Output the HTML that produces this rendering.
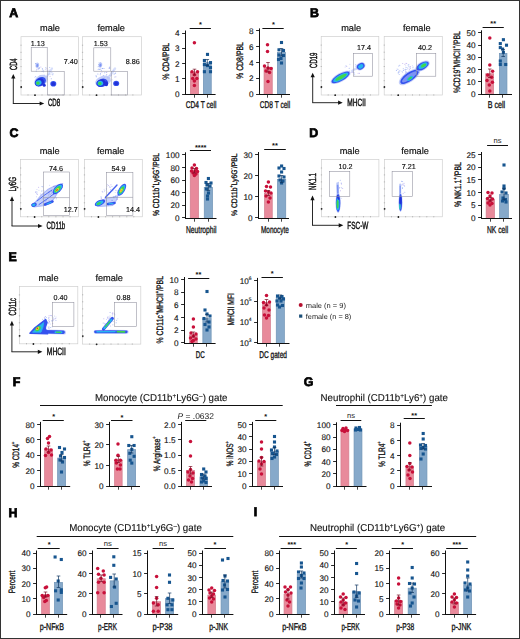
<!DOCTYPE html>
<html><head><meta charset="utf-8"><style>
html,body{margin:0;padding:0;background:#fff;}
svg{display:block;font-family:"Liberation Sans", sans-serif;text-rendering:geometricPrecision;}
</style></head><body>
<svg width="520" height="639" viewBox="0 0 520 639">
<defs><filter id="bl" x="-10%" y="-10%" width="120%" height="120%"><feGaussianBlur stdDeviation="0.4"/></filter></defs>
<rect x="0" y="0" width="520" height="639" fill="#fff"/>
<rect x="190.35" y="72.14999999999999" width="8.3" height="22.35" fill="#e88a9b" stroke="#d27b8c" stroke-width="0.7"/>
<rect x="203.35" y="62.75" width="7.899999999999994" height="31.75" fill="#86a9ca" stroke="#7093b6" stroke-width="0.7"/>
<circle cx="194.4" cy="42.7" r="1.75" fill="#c8103a"/>
<circle cx="192" cy="71.7" r="1.75" fill="#c8103a"/>
<circle cx="197.5" cy="71.7" r="1.75" fill="#c8103a"/>
<circle cx="194.4" cy="74.8" r="1.75" fill="#c8103a"/>
<circle cx="192.7" cy="78.6" r="1.75" fill="#c8103a"/>
<circle cx="196.8" cy="78.6" r="1.75" fill="#c8103a"/>
<circle cx="194.4" cy="80.9" r="1.75" fill="#c8103a"/>
<circle cx="194.4" cy="85.4" r="1.75" fill="#c8103a"/>
<rect x="205.95" y="52.85" width="3.1" height="3.1" fill="#17558f"/>
<rect x="202.85" y="58.95" width="3.1" height="3.1" fill="#17558f"/>
<rect x="208.95" y="61.050000000000004" width="3.1" height="3.1" fill="#17558f"/>
<rect x="202.85" y="63.05" width="3.1" height="3.1" fill="#17558f"/>
<rect x="205.95" y="64.05" width="3.1" height="3.1" fill="#17558f"/>
<rect x="208.95" y="66.05" width="3.1" height="3.1" fill="#17558f"/>
<rect x="202.85" y="70.15" width="3.1" height="3.1" fill="#17558f"/>
<rect x="208.95" y="70.15" width="3.1" height="3.1" fill="#17558f"/>
<line x1="194.5" y1="69.2" x2="194.5" y2="75" stroke="#7a0f25" stroke-width="0.7"/>
<line x1="192.7" y1="69.2" x2="196.3" y2="69.2" stroke="#7a0f25" stroke-width="0.7"/>
<line x1="192.7" y1="75" x2="196.3" y2="75" stroke="#7a0f25" stroke-width="0.7"/>
<line x1="207.3" y1="59.5" x2="207.3" y2="65.5" stroke="#0f3560" stroke-width="0.7"/>
<line x1="205.5" y1="59.5" x2="209.10000000000002" y2="59.5" stroke="#0f3560" stroke-width="0.7"/>
<line x1="205.5" y1="65.5" x2="209.10000000000002" y2="65.5" stroke="#0f3560" stroke-width="0.7"/>
<line x1="185.5" y1="30.500000000000004" x2="185.5" y2="95.0" stroke="#111" stroke-width="1.0"/>
<line x1="185.0" y1="94.5" x2="215.6" y2="94.5" stroke="#111" stroke-width="1.0"/>
<line x1="182.1" y1="94.5" x2="185.5" y2="94.5" stroke="#111" stroke-width="0.9"/>
<text x="179.5" y="97.2" font-size="8.2" text-anchor="end" fill="#111" stroke="#111" stroke-width="0.12">0</text>
<line x1="182.1" y1="78.5" x2="185.5" y2="78.5" stroke="#111" stroke-width="0.9"/>
<text x="179.5" y="81.92500000000001" font-size="8.2" text-anchor="end" fill="#111" stroke="#111" stroke-width="0.12">1</text>
<line x1="182.1" y1="63.5" x2="185.5" y2="63.5" stroke="#111" stroke-width="0.9"/>
<text x="179.5" y="66.65" font-size="8.2" text-anchor="end" fill="#111" stroke="#111" stroke-width="0.12">2</text>
<line x1="182.1" y1="48.5" x2="185.5" y2="48.5" stroke="#111" stroke-width="0.9"/>
<text x="179.5" y="51.375" font-size="8.2" text-anchor="end" fill="#111" stroke="#111" stroke-width="0.12">3</text>
<line x1="182.1" y1="33.5" x2="185.5" y2="33.5" stroke="#111" stroke-width="0.9"/>
<text x="179.5" y="36.1" font-size="8.2" text-anchor="end" fill="#111" stroke="#111" stroke-width="0.12">4</text>
<line x1="194.5" y1="94.5" x2="194.5" y2="97.7" stroke="#222" stroke-width="0.85"/>
<line x1="207.5" y1="94.5" x2="207.5" y2="97.7" stroke="#222" stroke-width="0.85"/>
<line x1="189.7" y1="28.5" x2="210.9" y2="28.5" stroke="#111" stroke-width="1.0"/>
<text x="200.5" y="27.3" font-size="7.4" font-weight="bold" text-anchor="middle" fill="#111">*</text>
<text x="185.8" y="107.6" font-size="9.8" fill="#111" stroke="#111" stroke-width="0.32" textLength="30.599999999999994" lengthAdjust="spacingAndGlyphs">CD4 T cell</text>
<text transform="translate(169.2,61.3) rotate(-90)" x="-18.35" y="0" font-size="9.3" fill="#111" stroke="#111" stroke-width="0.32" textLength="36.7" lengthAdjust="spacingAndGlyphs">% CD4/PBL</text>
<rect x="264.05" y="67.55" width="8.200000000000035" height="26.949999999999996" fill="#e88a9b" stroke="#d27b8c" stroke-width="0.7"/>
<rect x="277.35" y="52.35" width="8.199999999999978" height="42.15" fill="#86a9ca" stroke="#7093b6" stroke-width="0.7"/>
<circle cx="267.5" cy="44.7" r="1.75" fill="#c8103a"/>
<circle cx="267.5" cy="51.5" r="1.75" fill="#c8103a"/>
<circle cx="264.5" cy="66" r="1.75" fill="#c8103a"/>
<circle cx="268" cy="68" r="1.75" fill="#c8103a"/>
<circle cx="271" cy="68.5" r="1.75" fill="#c8103a"/>
<circle cx="266" cy="71" r="1.75" fill="#c8103a"/>
<circle cx="269.5" cy="72.5" r="1.75" fill="#c8103a"/>
<circle cx="268" cy="81.5" r="1.75" fill="#c8103a"/>
<rect x="279.95" y="40.95" width="3.1" height="3.1" fill="#17558f"/>
<rect x="277.45" y="48.25" width="3.1" height="3.1" fill="#17558f"/>
<rect x="281.95" y="48.95" width="3.1" height="3.1" fill="#17558f"/>
<rect x="277.45" y="53.45" width="3.1" height="3.1" fill="#17558f"/>
<rect x="281.95" y="53.95" width="3.1" height="3.1" fill="#17558f"/>
<rect x="279.45" y="56.95" width="3.1" height="3.1" fill="#17558f"/>
<rect x="276.95" y="57.95" width="3.1" height="3.1" fill="#17558f"/>
<rect x="279.95" y="61.45" width="3.1" height="3.1" fill="#17558f"/>
<line x1="268" y1="62.5" x2="268" y2="72" stroke="#7a0f25" stroke-width="0.7"/>
<line x1="266.2" y1="62.5" x2="269.8" y2="62.5" stroke="#7a0f25" stroke-width="0.7"/>
<line x1="266.2" y1="72" x2="269.8" y2="72" stroke="#7a0f25" stroke-width="0.7"/>
<line x1="281.5" y1="48.5" x2="281.5" y2="56" stroke="#0f3560" stroke-width="0.7"/>
<line x1="279.7" y1="48.5" x2="283.3" y2="48.5" stroke="#0f3560" stroke-width="0.7"/>
<line x1="279.7" y1="56" x2="283.3" y2="56" stroke="#0f3560" stroke-width="0.7"/>
<line x1="259.5" y1="28.400000000000002" x2="259.5" y2="95.0" stroke="#111" stroke-width="1.0"/>
<line x1="259.0" y1="94.5" x2="290" y2="94.5" stroke="#111" stroke-width="1.0"/>
<line x1="256.1" y1="94.5" x2="259.5" y2="94.5" stroke="#111" stroke-width="0.9"/>
<text x="253.5" y="97.2" font-size="8.2" text-anchor="end" fill="#111" stroke="#111" stroke-width="0.12">0</text>
<line x1="256.1" y1="78.5" x2="259.5" y2="78.5" stroke="#111" stroke-width="0.9"/>
<text x="253.5" y="81.4" font-size="8.2" text-anchor="end" fill="#111" stroke="#111" stroke-width="0.12">2</text>
<line x1="256.1" y1="62.5" x2="259.5" y2="62.5" stroke="#111" stroke-width="0.9"/>
<text x="253.5" y="65.60000000000001" font-size="8.2" text-anchor="end" fill="#111" stroke="#111" stroke-width="0.12">4</text>
<line x1="256.1" y1="46.5" x2="259.5" y2="46.5" stroke="#111" stroke-width="0.9"/>
<text x="253.5" y="49.8" font-size="8.2" text-anchor="end" fill="#111" stroke="#111" stroke-width="0.12">6</text>
<line x1="256.1" y1="30.5" x2="259.5" y2="30.5" stroke="#111" stroke-width="0.9"/>
<text x="253.5" y="34.0" font-size="8.2" text-anchor="end" fill="#111" stroke="#111" stroke-width="0.12">8</text>
<line x1="267.5" y1="94.5" x2="267.5" y2="97.7" stroke="#222" stroke-width="0.85"/>
<line x1="281.5" y1="94.5" x2="281.5" y2="97.7" stroke="#222" stroke-width="0.85"/>
<line x1="262.4" y1="28.5" x2="283.7" y2="28.5" stroke="#111" stroke-width="1.0"/>
<text x="273.5" y="27.3" font-size="7.4" font-weight="bold" text-anchor="middle" fill="#111">*</text>
<text x="259.8" y="107.6" font-size="9.8" fill="#111" stroke="#111" stroke-width="0.32" textLength="30.5" lengthAdjust="spacingAndGlyphs">CD8 T cell</text>
<text transform="translate(242.79999999999998,60.5) rotate(-90)" x="-18.45" y="0" font-size="9.3" fill="#111" stroke="#111" stroke-width="0.32" textLength="36.9" lengthAdjust="spacingAndGlyphs">% CD8/PBL</text>
<rect x="485.75" y="73.75" width="7.900000000000023" height="20.749999999999993" fill="#e88a9b" stroke="#d27b8c" stroke-width="0.7"/>
<rect x="499.35" y="53.35" width="7.600000000000011" height="41.15" fill="#86a9ca" stroke="#7093b6" stroke-width="0.7"/>
<circle cx="489.8" cy="37.9" r="1.75" fill="#c8103a"/>
<circle cx="489.8" cy="65.1" r="1.75" fill="#c8103a"/>
<circle cx="492.6" cy="71.3" r="1.75" fill="#c8103a"/>
<circle cx="487.7" cy="75" r="1.75" fill="#c8103a"/>
<circle cx="491.6" cy="77.3" r="1.75" fill="#c8103a"/>
<circle cx="487" cy="80.4" r="1.75" fill="#c8103a"/>
<circle cx="492.4" cy="82.3" r="1.75" fill="#c8103a"/>
<circle cx="489.3" cy="85.1" r="1.75" fill="#c8103a"/>
<circle cx="489.8" cy="91.1" r="1.75" fill="#c8103a"/>
<rect x="501.84999999999997" y="38.150000000000006" width="3.1" height="3.1" fill="#17558f"/>
<rect x="498.75" y="42.050000000000004" width="3.1" height="3.1" fill="#17558f"/>
<rect x="504.95" y="43.650000000000006" width="3.1" height="3.1" fill="#17558f"/>
<rect x="498.75" y="46.050000000000004" width="3.1" height="3.1" fill="#17558f"/>
<rect x="501.05" y="47.550000000000004" width="3.1" height="3.1" fill="#17558f"/>
<rect x="501.84999999999997" y="50.75" width="3.1" height="3.1" fill="#17558f"/>
<rect x="498.75" y="59.45" width="3.1" height="3.1" fill="#17558f"/>
<rect x="504.15" y="62.95" width="3.1" height="3.1" fill="#17558f"/>
<rect x="498.75" y="62.95" width="3.1" height="3.1" fill="#17558f"/>
<line x1="489.8" y1="69" x2="489.8" y2="77.5" stroke="#7a0f25" stroke-width="0.7"/>
<line x1="488.0" y1="69" x2="491.6" y2="69" stroke="#7a0f25" stroke-width="0.7"/>
<line x1="488.0" y1="77.5" x2="491.6" y2="77.5" stroke="#7a0f25" stroke-width="0.7"/>
<line x1="503.2" y1="49.5" x2="503.2" y2="56.5" stroke="#0f3560" stroke-width="0.7"/>
<line x1="501.4" y1="49.5" x2="505.0" y2="49.5" stroke="#0f3560" stroke-width="0.7"/>
<line x1="501.4" y1="56.5" x2="505.0" y2="56.5" stroke="#0f3560" stroke-width="0.7"/>
<line x1="481.5" y1="30.3" x2="481.5" y2="95.0" stroke="#111" stroke-width="1.0"/>
<line x1="481.0" y1="94.5" x2="512" y2="94.5" stroke="#111" stroke-width="1.0"/>
<line x1="478.1" y1="94.5" x2="481.5" y2="94.5" stroke="#111" stroke-width="0.9"/>
<text x="475.5" y="97.10000000000001" font-size="8.2" text-anchor="end" fill="#111" stroke="#111" stroke-width="0.12">0</text>
<line x1="478.1" y1="81.5" x2="481.5" y2="81.5" stroke="#111" stroke-width="0.9"/>
<text x="475.5" y="84.86000000000001" font-size="8.2" text-anchor="end" fill="#111" stroke="#111" stroke-width="0.12">10</text>
<line x1="478.1" y1="69.5" x2="481.5" y2="69.5" stroke="#111" stroke-width="0.9"/>
<text x="475.5" y="72.62" font-size="8.2" text-anchor="end" fill="#111" stroke="#111" stroke-width="0.12">20</text>
<line x1="478.1" y1="57.5" x2="481.5" y2="57.5" stroke="#111" stroke-width="0.9"/>
<text x="475.5" y="60.379999999999995" font-size="8.2" text-anchor="end" fill="#111" stroke="#111" stroke-width="0.12">30</text>
<line x1="478.1" y1="45.5" x2="481.5" y2="45.5" stroke="#111" stroke-width="0.9"/>
<text x="475.5" y="48.14" font-size="8.2" text-anchor="end" fill="#111" stroke="#111" stroke-width="0.12">40</text>
<line x1="478.1" y1="32.5" x2="481.5" y2="32.5" stroke="#111" stroke-width="0.9"/>
<text x="475.5" y="35.9" font-size="8.2" text-anchor="end" fill="#111" stroke="#111" stroke-width="0.12">50</text>
<line x1="489.5" y1="94.5" x2="489.5" y2="97.7" stroke="#222" stroke-width="0.85"/>
<line x1="502.5" y1="94.5" x2="502.5" y2="97.7" stroke="#222" stroke-width="0.85"/>
<line x1="482.6" y1="27.5" x2="503.8" y2="27.5" stroke="#111" stroke-width="1.0"/>
<text x="493.2" y="26.2" font-size="7.4" font-weight="bold" text-anchor="middle" fill="#111">**</text>
<text x="487.7" y="108.2" font-size="9.8" fill="#111" stroke="#111" stroke-width="0.32" textLength="17.5" lengthAdjust="spacingAndGlyphs">B cell</text>
<text transform="translate(459.70000000000005,62.2) rotate(-90)" x="-30.9" y="0" font-size="9.3" fill="#111" stroke="#111" stroke-width="0.32" textLength="61.8" lengthAdjust="spacingAndGlyphs">%CD19<tspan font-size="60%" baseline-shift="3.6">+</tspan>MHCII<tspan font-size="60%" baseline-shift="3.6">+</tspan>/PBL</text>
<rect x="190.25" y="171.15" width="8.3" height="47.34999999999999" fill="#e88a9b" stroke="#d27b8c" stroke-width="0.7"/>
<rect x="204.25" y="187.35" width="8.3" height="31.15" fill="#86a9ca" stroke="#7093b6" stroke-width="0.7"/>
<circle cx="194.4" cy="165" r="1.75" fill="#c8103a"/>
<circle cx="192" cy="168" r="1.75" fill="#c8103a"/>
<circle cx="196.5" cy="168.5" r="1.75" fill="#c8103a"/>
<circle cx="191.5" cy="171" r="1.75" fill="#c8103a"/>
<circle cx="195" cy="171" r="1.75" fill="#c8103a"/>
<circle cx="197.5" cy="171.5" r="1.75" fill="#c8103a"/>
<circle cx="193" cy="173" r="1.75" fill="#c8103a"/>
<circle cx="196" cy="174" r="1.75" fill="#c8103a"/>
<circle cx="194.4" cy="175.5" r="1.75" fill="#c8103a"/>
<rect x="206.85" y="176.95" width="3.1" height="3.1" fill="#17558f"/>
<rect x="204.45" y="180.95" width="3.1" height="3.1" fill="#17558f"/>
<rect x="209.45" y="181.45" width="3.1" height="3.1" fill="#17558f"/>
<rect x="205.45" y="183.45" width="3.1" height="3.1" fill="#17558f"/>
<rect x="208.45" y="184.45" width="3.1" height="3.1" fill="#17558f"/>
<rect x="204.95" y="187.45" width="3.1" height="3.1" fill="#17558f"/>
<rect x="206.95" y="191.45" width="3.1" height="3.1" fill="#17558f"/>
<rect x="205.95" y="194.45" width="3.1" height="3.1" fill="#17558f"/>
<rect x="205.95" y="197.45" width="3.1" height="3.1" fill="#17558f"/>
<line x1="194.4" y1="168.5" x2="194.4" y2="173" stroke="#7a0f25" stroke-width="0.7"/>
<line x1="192.6" y1="168.5" x2="196.20000000000002" y2="168.5" stroke="#7a0f25" stroke-width="0.7"/>
<line x1="192.6" y1="173" x2="196.20000000000002" y2="173" stroke="#7a0f25" stroke-width="0.7"/>
<line x1="208.4" y1="183.5" x2="208.4" y2="190.5" stroke="#0f3560" stroke-width="0.7"/>
<line x1="206.6" y1="183.5" x2="210.20000000000002" y2="183.5" stroke="#0f3560" stroke-width="0.7"/>
<line x1="206.6" y1="190.5" x2="210.20000000000002" y2="190.5" stroke="#0f3560" stroke-width="0.7"/>
<line x1="185.5" y1="152.3" x2="185.5" y2="219.0" stroke="#111" stroke-width="1.0"/>
<line x1="185.0" y1="218.5" x2="216.5" y2="218.5" stroke="#111" stroke-width="1.0"/>
<line x1="182.1" y1="217.5" x2="185.5" y2="217.5" stroke="#111" stroke-width="0.9"/>
<text x="179.5" y="221.0" font-size="8.2" text-anchor="end" fill="#111" stroke="#111" stroke-width="0.12">0</text>
<line x1="182.1" y1="205.5" x2="185.5" y2="205.5" stroke="#111" stroke-width="0.9"/>
<text x="179.5" y="208.38" font-size="8.2" text-anchor="end" fill="#111" stroke="#111" stroke-width="0.12">20</text>
<line x1="182.1" y1="192.5" x2="185.5" y2="192.5" stroke="#111" stroke-width="0.9"/>
<text x="179.5" y="195.76" font-size="8.2" text-anchor="end" fill="#111" stroke="#111" stroke-width="0.12">40</text>
<line x1="182.1" y1="180.5" x2="185.5" y2="180.5" stroke="#111" stroke-width="0.9"/>
<text x="179.5" y="183.14000000000001" font-size="8.2" text-anchor="end" fill="#111" stroke="#111" stroke-width="0.12">60</text>
<line x1="182.1" y1="167.5" x2="185.5" y2="167.5" stroke="#111" stroke-width="0.9"/>
<text x="179.5" y="170.52" font-size="8.2" text-anchor="end" fill="#111" stroke="#111" stroke-width="0.12">80</text>
<line x1="182.1" y1="154.5" x2="185.5" y2="154.5" stroke="#111" stroke-width="0.9"/>
<text x="179.5" y="157.9" font-size="8.2" text-anchor="end" fill="#111" stroke="#111" stroke-width="0.12">100</text>
<line x1="194.5" y1="218.5" x2="194.5" y2="221.7" stroke="#222" stroke-width="0.85"/>
<line x1="208.5" y1="218.5" x2="208.5" y2="221.7" stroke="#222" stroke-width="0.85"/>
<line x1="189.9" y1="150.5" x2="211" y2="150.5" stroke="#111" stroke-width="1.0"/>
<text x="200.7" y="149.5" font-size="7.4" font-weight="bold" text-anchor="middle" fill="#111">****</text>
<text x="186" y="232.6" font-size="9.8" fill="#111" stroke="#111" stroke-width="0.32" textLength="30.5" lengthAdjust="spacingAndGlyphs">Neutrophil</text>
<text transform="translate(159.4,184.5) rotate(-90)" x="-31.45" y="0" font-size="8.7" fill="#111" stroke="#111" stroke-width="0.32" textLength="62.9" lengthAdjust="spacingAndGlyphs">% CD11b<tspan font-size="60%" baseline-shift="3.6">+</tspan>Ly6G<tspan font-size="60%" baseline-shift="3.6">+</tspan>/PBL</text>
<rect x="264.55" y="193.35" width="7.700000000000034" height="25.15" fill="#e88a9b" stroke="#d27b8c" stroke-width="0.7"/>
<rect x="277.45000000000005" y="179.35" width="8.3" height="39.15" fill="#86a9ca" stroke="#7093b6" stroke-width="0.7"/>
<circle cx="268.4" cy="182" r="1.75" fill="#c8103a"/>
<circle cx="266.5" cy="186.5" r="1.75" fill="#c8103a"/>
<circle cx="270.5" cy="187" r="1.75" fill="#c8103a"/>
<circle cx="265.5" cy="191" r="1.75" fill="#c8103a"/>
<circle cx="268.5" cy="192" r="1.75" fill="#c8103a"/>
<circle cx="271" cy="193" r="1.75" fill="#c8103a"/>
<circle cx="266" cy="196" r="1.75" fill="#c8103a"/>
<circle cx="270" cy="198" r="1.75" fill="#c8103a"/>
<circle cx="268.4" cy="202" r="1.75" fill="#c8103a"/>
<rect x="280.05" y="164.45" width="3.1" height="3.1" fill="#17558f"/>
<rect x="277.45" y="166.45" width="3.1" height="3.1" fill="#17558f"/>
<rect x="282.45" y="166.95" width="3.1" height="3.1" fill="#17558f"/>
<rect x="280.05" y="170.45" width="3.1" height="3.1" fill="#17558f"/>
<rect x="277.45" y="174.45" width="3.1" height="3.1" fill="#17558f"/>
<rect x="282.45" y="175.45" width="3.1" height="3.1" fill="#17558f"/>
<rect x="278.45" y="178.45" width="3.1" height="3.1" fill="#17558f"/>
<rect x="281.45" y="179.45" width="3.1" height="3.1" fill="#17558f"/>
<rect x="280.05" y="181.45" width="3.1" height="3.1" fill="#17558f"/>
<line x1="268.4" y1="190.5" x2="268.4" y2="195.5" stroke="#7a0f25" stroke-width="0.7"/>
<line x1="266.59999999999997" y1="190.5" x2="270.2" y2="190.5" stroke="#7a0f25" stroke-width="0.7"/>
<line x1="266.59999999999997" y1="195.5" x2="270.2" y2="195.5" stroke="#7a0f25" stroke-width="0.7"/>
<line x1="281.6" y1="175.5" x2="281.6" y2="182.5" stroke="#0f3560" stroke-width="0.7"/>
<line x1="279.8" y1="175.5" x2="283.40000000000003" y2="175.5" stroke="#0f3560" stroke-width="0.7"/>
<line x1="279.8" y1="182.5" x2="283.40000000000003" y2="182.5" stroke="#0f3560" stroke-width="0.7"/>
<line x1="258.5" y1="152.0" x2="258.5" y2="219.0" stroke="#111" stroke-width="1.0"/>
<line x1="258.0" y1="218.5" x2="289" y2="218.5" stroke="#111" stroke-width="1.0"/>
<line x1="255.1" y1="217.5" x2="258.5" y2="217.5" stroke="#111" stroke-width="0.9"/>
<text x="252.5" y="221.0" font-size="8.2" text-anchor="end" fill="#111" stroke="#111" stroke-width="0.12">0</text>
<line x1="255.1" y1="196.5" x2="258.5" y2="196.5" stroke="#111" stroke-width="0.9"/>
<text x="252.5" y="199.86666666666667" font-size="8.2" text-anchor="end" fill="#111" stroke="#111" stroke-width="0.12">10</text>
<line x1="255.1" y1="175.5" x2="258.5" y2="175.5" stroke="#111" stroke-width="0.9"/>
<text x="252.5" y="178.73333333333332" font-size="8.2" text-anchor="end" fill="#111" stroke="#111" stroke-width="0.12">20</text>
<line x1="255.1" y1="154.5" x2="258.5" y2="154.5" stroke="#111" stroke-width="0.9"/>
<text x="252.5" y="157.6" font-size="8.2" text-anchor="end" fill="#111" stroke="#111" stroke-width="0.12">30</text>
<line x1="268.5" y1="218.5" x2="268.5" y2="221.7" stroke="#222" stroke-width="0.85"/>
<line x1="281.5" y1="218.5" x2="281.5" y2="221.7" stroke="#222" stroke-width="0.85"/>
<line x1="264.2" y1="149.5" x2="285.8" y2="149.5" stroke="#111" stroke-width="1.0"/>
<text x="275" y="147.8" font-size="7.4" font-weight="bold" text-anchor="middle" fill="#111">**</text>
<text x="261" y="232.6" font-size="9.8" fill="#111" stroke="#111" stroke-width="0.32" textLength="27.80000000000001" lengthAdjust="spacingAndGlyphs">Monocyte</text>
<text transform="translate(237.29999999999998,184.7) rotate(-90)" x="-31.2" y="0" font-size="8.0" fill="#111" stroke="#111" stroke-width="0.32" textLength="62.4" lengthAdjust="spacingAndGlyphs">% CD11b<tspan font-size="60%" baseline-shift="3.6">+</tspan>Ly6G<tspan font-size="60%" baseline-shift="3.6">-</tspan>/PBL</text>
<rect x="486.15000000000003" y="199.35" width="8.3" height="19.15" fill="#e88a9b" stroke="#d27b8c" stroke-width="0.7"/>
<rect x="499.65000000000003" y="194.54999999999998" width="8.699999999999978" height="23.95000000000001" fill="#86a9ca" stroke="#7093b6" stroke-width="0.7"/>
<circle cx="488" cy="192.5" r="1.75" fill="#c8103a"/>
<circle cx="492" cy="193" r="1.75" fill="#c8103a"/>
<circle cx="490" cy="196" r="1.75" fill="#c8103a"/>
<circle cx="487.5" cy="198.5" r="1.75" fill="#c8103a"/>
<circle cx="492.5" cy="199" r="1.75" fill="#c8103a"/>
<circle cx="490" cy="201" r="1.75" fill="#c8103a"/>
<circle cx="488" cy="203" r="1.75" fill="#c8103a"/>
<circle cx="492" cy="203.5" r="1.75" fill="#c8103a"/>
<circle cx="490" cy="205" r="1.75" fill="#c8103a"/>
<rect x="502.45" y="163.45" width="3.1" height="3.1" fill="#17558f"/>
<rect x="502.45" y="184.45" width="3.1" height="3.1" fill="#17558f"/>
<rect x="502.45" y="186.95" width="3.1" height="3.1" fill="#17558f"/>
<rect x="500.45" y="190.45" width="3.1" height="3.1" fill="#17558f"/>
<rect x="504.45" y="191.45" width="3.1" height="3.1" fill="#17558f"/>
<rect x="501.45" y="196.45" width="3.1" height="3.1" fill="#17558f"/>
<rect x="503.95" y="197.95" width="3.1" height="3.1" fill="#17558f"/>
<rect x="500.95" y="199.45" width="3.1" height="3.1" fill="#17558f"/>
<rect x="504.45" y="200.45" width="3.1" height="3.1" fill="#17558f"/>
<line x1="490.3" y1="197.5" x2="490.3" y2="201" stroke="#7a0f25" stroke-width="0.7"/>
<line x1="488.5" y1="197.5" x2="492.1" y2="197.5" stroke="#7a0f25" stroke-width="0.7"/>
<line x1="488.5" y1="201" x2="492.1" y2="201" stroke="#7a0f25" stroke-width="0.7"/>
<line x1="504" y1="188.5" x2="504" y2="199.5" stroke="#0f3560" stroke-width="0.7"/>
<line x1="502.2" y1="188.5" x2="505.8" y2="188.5" stroke="#0f3560" stroke-width="0.7"/>
<line x1="502.2" y1="199.5" x2="505.8" y2="199.5" stroke="#0f3560" stroke-width="0.7"/>
<line x1="481.5" y1="152.0" x2="481.5" y2="219.0" stroke="#111" stroke-width="1.0"/>
<line x1="481.0" y1="218.5" x2="512" y2="218.5" stroke="#111" stroke-width="1.0"/>
<line x1="478.1" y1="217.5" x2="481.5" y2="217.5" stroke="#111" stroke-width="0.9"/>
<text x="475.5" y="221.0" font-size="8.2" text-anchor="end" fill="#111" stroke="#111" stroke-width="0.12">0</text>
<line x1="478.1" y1="205.5" x2="481.5" y2="205.5" stroke="#111" stroke-width="0.9"/>
<text x="475.5" y="208.32" font-size="8.2" text-anchor="end" fill="#111" stroke="#111" stroke-width="0.12">5</text>
<line x1="478.1" y1="192.5" x2="481.5" y2="192.5" stroke="#111" stroke-width="0.9"/>
<text x="475.5" y="195.64" font-size="8.2" text-anchor="end" fill="#111" stroke="#111" stroke-width="0.12">10</text>
<line x1="478.1" y1="179.5" x2="481.5" y2="179.5" stroke="#111" stroke-width="0.9"/>
<text x="475.5" y="182.96" font-size="8.2" text-anchor="end" fill="#111" stroke="#111" stroke-width="0.12">15</text>
<line x1="478.1" y1="167.5" x2="481.5" y2="167.5" stroke="#111" stroke-width="0.9"/>
<text x="475.5" y="170.28" font-size="8.2" text-anchor="end" fill="#111" stroke="#111" stroke-width="0.12">20</text>
<line x1="478.1" y1="154.5" x2="481.5" y2="154.5" stroke="#111" stroke-width="0.9"/>
<text x="475.5" y="157.6" font-size="8.2" text-anchor="end" fill="#111" stroke="#111" stroke-width="0.12">25</text>
<line x1="490.5" y1="218.5" x2="490.5" y2="221.7" stroke="#222" stroke-width="0.85"/>
<line x1="503.5" y1="218.5" x2="503.5" y2="221.7" stroke="#222" stroke-width="0.85"/>
<line x1="487.1" y1="145.5" x2="508" y2="145.5" stroke="#111" stroke-width="1.0"/>
<text x="497.5" y="143.3" font-size="7.6" text-anchor="middle" fill="#1a1a1a">ns</text>
<text x="487" y="232.6" font-size="9.8" fill="#111" stroke="#111" stroke-width="0.32" textLength="21.30000000000001" lengthAdjust="spacingAndGlyphs">NK cell</text>
<text transform="translate(460.8,184.6) rotate(-90)" x="-22.5" y="0" font-size="9.3" fill="#111" stroke="#111" stroke-width="0.32" textLength="45" lengthAdjust="spacingAndGlyphs">% NK1.1<tspan font-size="60%" baseline-shift="3.6">+</tspan>/PBL</text>
<rect x="189.54999999999998" y="334.85" width="7.7000000000000055" height="8.65" fill="#e88a9b" stroke="#d27b8c" stroke-width="0.7"/>
<rect x="202.85" y="318.65000000000003" width="8.3" height="24.849999999999987" fill="#86a9ca" stroke="#7093b6" stroke-width="0.7"/>
<circle cx="193.4" cy="319" r="1.75" fill="#c8103a"/>
<circle cx="193.4" cy="327" r="1.75" fill="#c8103a"/>
<circle cx="191" cy="333" r="1.75" fill="#c8103a"/>
<circle cx="196" cy="334" r="1.75" fill="#c8103a"/>
<circle cx="193.4" cy="336" r="1.75" fill="#c8103a"/>
<circle cx="190.5" cy="338" r="1.75" fill="#c8103a"/>
<circle cx="196" cy="339" r="1.75" fill="#c8103a"/>
<circle cx="193.4" cy="340.5" r="1.75" fill="#c8103a"/>
<circle cx="192" cy="341.5" r="1.75" fill="#c8103a"/>
<rect x="205.45" y="289.95" width="3.1" height="3.1" fill="#17558f"/>
<rect x="203.45" y="308.45" width="3.1" height="3.1" fill="#17558f"/>
<rect x="205.45" y="312.45" width="3.1" height="3.1" fill="#17558f"/>
<rect x="208.45" y="314.45" width="3.1" height="3.1" fill="#17558f"/>
<rect x="202.45" y="316.95" width="3.1" height="3.1" fill="#17558f"/>
<rect x="207.45" y="320.45" width="3.1" height="3.1" fill="#17558f"/>
<rect x="203.45" y="322.95" width="3.1" height="3.1" fill="#17558f"/>
<rect x="207.45" y="325.45" width="3.1" height="3.1" fill="#17558f"/>
<rect x="205.45" y="328.45" width="3.1" height="3.1" fill="#17558f"/>
<line x1="193.4" y1="332" x2="193.4" y2="337" stroke="#7a0f25" stroke-width="0.7"/>
<line x1="191.6" y1="332" x2="195.20000000000002" y2="332" stroke="#7a0f25" stroke-width="0.7"/>
<line x1="191.6" y1="337" x2="195.20000000000002" y2="337" stroke="#7a0f25" stroke-width="0.7"/>
<line x1="207" y1="314.5" x2="207" y2="322" stroke="#0f3560" stroke-width="0.7"/>
<line x1="205.2" y1="314.5" x2="208.8" y2="314.5" stroke="#0f3560" stroke-width="0.7"/>
<line x1="205.2" y1="322" x2="208.8" y2="322" stroke="#0f3560" stroke-width="0.7"/>
<line x1="184.5" y1="277.0" x2="184.5" y2="344.0" stroke="#111" stroke-width="1.0"/>
<line x1="184.0" y1="343.5" x2="215.6" y2="343.5" stroke="#111" stroke-width="1.0"/>
<line x1="181.1" y1="342.5" x2="184.5" y2="342.5" stroke="#111" stroke-width="0.9"/>
<text x="178.5" y="346.0" font-size="8.2" text-anchor="end" fill="#111" stroke="#111" stroke-width="0.12">0</text>
<line x1="181.1" y1="330.5" x2="184.5" y2="330.5" stroke="#111" stroke-width="0.9"/>
<text x="178.5" y="333.32" font-size="8.2" text-anchor="end" fill="#111" stroke="#111" stroke-width="0.12">2</text>
<line x1="181.1" y1="317.5" x2="184.5" y2="317.5" stroke="#111" stroke-width="0.9"/>
<text x="178.5" y="320.64" font-size="8.2" text-anchor="end" fill="#111" stroke="#111" stroke-width="0.12">4</text>
<line x1="181.1" y1="304.5" x2="184.5" y2="304.5" stroke="#111" stroke-width="0.9"/>
<text x="178.5" y="307.96" font-size="8.2" text-anchor="end" fill="#111" stroke="#111" stroke-width="0.12">6</text>
<line x1="181.1" y1="292.5" x2="184.5" y2="292.5" stroke="#111" stroke-width="0.9"/>
<text x="178.5" y="295.28" font-size="8.2" text-anchor="end" fill="#111" stroke="#111" stroke-width="0.12">8</text>
<line x1="181.1" y1="279.5" x2="184.5" y2="279.5" stroke="#111" stroke-width="0.9"/>
<text x="178.5" y="282.59999999999997" font-size="8.2" text-anchor="end" fill="#111" stroke="#111" stroke-width="0.12">10</text>
<line x1="193.5" y1="343.5" x2="193.5" y2="346.7" stroke="#222" stroke-width="0.85"/>
<line x1="206.5" y1="343.5" x2="206.5" y2="346.7" stroke="#222" stroke-width="0.85"/>
<line x1="188.1" y1="278.5" x2="209.3" y2="278.5" stroke="#111" stroke-width="1.0"/>
<text x="198.5" y="277.3" font-size="7.4" font-weight="bold" text-anchor="middle" fill="#111">**</text>
<text x="195.8" y="357.6" font-size="9.8" fill="#111" stroke="#111" stroke-width="0.32" textLength="9.0" lengthAdjust="spacingAndGlyphs">DC</text>
<text transform="translate(163.1,309.8) rotate(-90)" x="-33.75" y="0" font-size="9.3" fill="#111" stroke="#111" stroke-width="0.32" textLength="67.5" lengthAdjust="spacingAndGlyphs">% CD11c<tspan font-size="60%" baseline-shift="3.6">+</tspan>MHCII<tspan font-size="60%" baseline-shift="3.6">+</tspan>/PBL</text>
<rect x="262.55" y="302.45000000000005" width="7.900000000000023" height="41.049999999999976" fill="#e88a9b" stroke="#d27b8c" stroke-width="0.7"/>
<rect x="276.25" y="297.45000000000005" width="8.100000000000012" height="46.049999999999976" fill="#86a9ca" stroke="#7093b6" stroke-width="0.7"/>
<circle cx="266.5" cy="295.5" r="1.75" fill="#c8103a"/>
<circle cx="263.5" cy="302.5" r="1.75" fill="#c8103a"/>
<circle cx="269.5" cy="302" r="1.75" fill="#c8103a"/>
<circle cx="266.5" cy="305" r="1.75" fill="#c8103a"/>
<circle cx="264" cy="308" r="1.75" fill="#c8103a"/>
<circle cx="269" cy="310" r="1.75" fill="#c8103a"/>
<circle cx="264.5" cy="315" r="1.75" fill="#c8103a"/>
<circle cx="268.5" cy="315.5" r="1.75" fill="#c8103a"/>
<circle cx="266.5" cy="318" r="1.75" fill="#c8103a"/>
<rect x="275.95" y="294.45" width="3.1" height="3.1" fill="#17558f"/>
<rect x="280.45" y="294.95" width="3.1" height="3.1" fill="#17558f"/>
<rect x="277.95" y="296.45" width="3.1" height="3.1" fill="#17558f"/>
<rect x="281.95" y="297.45" width="3.1" height="3.1" fill="#17558f"/>
<rect x="275.45" y="299.45" width="3.1" height="3.1" fill="#17558f"/>
<rect x="279.45" y="299.45" width="3.1" height="3.1" fill="#17558f"/>
<rect x="275.95" y="303.45" width="3.1" height="3.1" fill="#17558f"/>
<rect x="280.95" y="303.95" width="3.1" height="3.1" fill="#17558f"/>
<rect x="277.95" y="305.45" width="3.1" height="3.1" fill="#17558f"/>
<line x1="266.5" y1="299.5" x2="266.5" y2="305.5" stroke="#7a0f25" stroke-width="0.7"/>
<line x1="264.7" y1="299.5" x2="268.3" y2="299.5" stroke="#7a0f25" stroke-width="0.7"/>
<line x1="264.7" y1="305.5" x2="268.3" y2="305.5" stroke="#7a0f25" stroke-width="0.7"/>
<line x1="280.3" y1="295" x2="280.3" y2="299" stroke="#0f3560" stroke-width="0.7"/>
<line x1="278.5" y1="295" x2="282.1" y2="295" stroke="#0f3560" stroke-width="0.7"/>
<line x1="278.5" y1="299" x2="282.1" y2="299" stroke="#0f3560" stroke-width="0.7"/>
<line x1="257.5" y1="277.90000000000003" x2="257.5" y2="344.0" stroke="#111" stroke-width="1.0"/>
<line x1="257.0" y1="343.5" x2="289.5" y2="343.5" stroke="#111" stroke-width="1.0"/>
<line x1="254.1" y1="280.5" x2="257.5" y2="280.5" stroke="#111" stroke-width="0.9"/>
<text x="251.5" y="283.5" font-size="8.2" text-anchor="end" fill="#111" stroke="#111" stroke-width="0.12">10<tspan font-size="60%" baseline-shift="3.6">6</tspan></text>
<line x1="254.1" y1="301.5" x2="257.5" y2="301.5" stroke="#111" stroke-width="0.9"/>
<text x="251.5" y="304.7" font-size="8.2" text-anchor="end" fill="#111" stroke="#111" stroke-width="0.12">10<tspan font-size="60%" baseline-shift="3.6">5</tspan></text>
<line x1="254.1" y1="322.5" x2="257.5" y2="322.5" stroke="#111" stroke-width="0.9"/>
<text x="251.5" y="325.2" font-size="8.2" text-anchor="end" fill="#111" stroke="#111" stroke-width="0.12">10<tspan font-size="60%" baseline-shift="3.6">4</tspan></text>
<line x1="254.1" y1="342.5" x2="257.5" y2="342.5" stroke="#111" stroke-width="0.9"/>
<text x="251.5" y="346.0" font-size="8.2" text-anchor="end" fill="#111" stroke="#111" stroke-width="0.12">10<tspan font-size="60%" baseline-shift="3.6">3</tspan></text>
<line x1="266.5" y1="343.5" x2="266.5" y2="346.7" stroke="#222" stroke-width="0.85"/>
<line x1="279.5" y1="343.5" x2="279.5" y2="346.7" stroke="#222" stroke-width="0.85"/>
<line x1="261.5" y1="277.5" x2="282.9" y2="277.5" stroke="#111" stroke-width="1.0"/>
<text x="272.1" y="276.4" font-size="7.4" font-weight="bold" text-anchor="middle" fill="#111">*</text>
<text x="259.2" y="357.6" font-size="9.8" fill="#111" stroke="#111" stroke-width="0.32" textLength="27.80000000000001" lengthAdjust="spacingAndGlyphs">DC gated</text>
<text transform="translate(233.7,309.3) rotate(-90)" x="-16.2" y="0" font-size="9.3" fill="#111" stroke="#111" stroke-width="0.32" textLength="32.4" lengthAdjust="spacingAndGlyphs">MHCII MFI</text>
<rect x="44.550000000000004" y="449.05" width="7.999999999999996" height="37.45000000000001" fill="#e88a9b" stroke="#d27b8c" stroke-width="0.7"/>
<rect x="57.65" y="458.05" width="8.000000000000004" height="28.45000000000001" fill="#86a9ca" stroke="#7093b6" stroke-width="0.7"/>
<circle cx="49.5" cy="436.5" r="1.75" fill="#c8103a"/>
<circle cx="47.5" cy="438.5" r="1.75" fill="#c8103a"/>
<circle cx="48.5" cy="443" r="1.75" fill="#c8103a"/>
<circle cx="46" cy="449" r="1.75" fill="#c8103a"/>
<circle cx="51" cy="450" r="1.75" fill="#c8103a"/>
<circle cx="48.5" cy="452.5" r="1.75" fill="#c8103a"/>
<circle cx="45.5" cy="455.5" r="1.75" fill="#c8103a"/>
<circle cx="51.5" cy="455" r="1.75" fill="#c8103a"/>
<rect x="57.95" y="445.95" width="3.1" height="3.1" fill="#17558f"/>
<rect x="62.95" y="447.45" width="3.1" height="3.1" fill="#17558f"/>
<rect x="60.45" y="450.95" width="3.1" height="3.1" fill="#17558f"/>
<rect x="58.95" y="454.45" width="3.1" height="3.1" fill="#17558f"/>
<rect x="62.95" y="455.95" width="3.1" height="3.1" fill="#17558f"/>
<rect x="58.45" y="458.45" width="3.1" height="3.1" fill="#17558f"/>
<rect x="60.95" y="460.45" width="3.1" height="3.1" fill="#17558f"/>
<rect x="59.95" y="470.45" width="3.1" height="3.1" fill="#17558f"/>
<line x1="48.5" y1="446" x2="48.5" y2="452" stroke="#7a0f25" stroke-width="0.7"/>
<line x1="46.7" y1="446" x2="50.3" y2="446" stroke="#7a0f25" stroke-width="0.7"/>
<line x1="46.7" y1="452" x2="50.3" y2="452" stroke="#7a0f25" stroke-width="0.7"/>
<line x1="61.7" y1="454.5" x2="61.7" y2="461" stroke="#0f3560" stroke-width="0.7"/>
<line x1="59.900000000000006" y1="454.5" x2="63.5" y2="454.5" stroke="#0f3560" stroke-width="0.7"/>
<line x1="59.900000000000006" y1="461" x2="63.5" y2="461" stroke="#0f3560" stroke-width="0.7"/>
<line x1="40.5" y1="421.90000000000003" x2="40.5" y2="487.0" stroke="#111" stroke-width="1.0"/>
<line x1="40.0" y1="486.5" x2="70.2" y2="486.5" stroke="#111" stroke-width="1.0"/>
<line x1="37.1" y1="486.5" x2="40.5" y2="486.5" stroke="#111" stroke-width="0.9"/>
<text x="34.5" y="489.09999999999997" font-size="8.2" text-anchor="end" fill="#111" stroke="#111" stroke-width="0.12">0</text>
<line x1="37.1" y1="470.5" x2="40.5" y2="470.5" stroke="#111" stroke-width="0.9"/>
<text x="34.5" y="473.7" font-size="8.2" text-anchor="end" fill="#111" stroke="#111" stroke-width="0.12">20</text>
<line x1="37.1" y1="455.5" x2="40.5" y2="455.5" stroke="#111" stroke-width="0.9"/>
<text x="34.5" y="458.29999999999995" font-size="8.2" text-anchor="end" fill="#111" stroke="#111" stroke-width="0.12">40</text>
<line x1="37.1" y1="439.5" x2="40.5" y2="439.5" stroke="#111" stroke-width="0.9"/>
<text x="34.5" y="442.9" font-size="8.2" text-anchor="end" fill="#111" stroke="#111" stroke-width="0.12">60</text>
<line x1="37.1" y1="424.5" x2="40.5" y2="424.5" stroke="#111" stroke-width="0.9"/>
<text x="34.5" y="427.5" font-size="8.2" text-anchor="end" fill="#111" stroke="#111" stroke-width="0.12">80</text>
<line x1="48.5" y1="486.5" x2="48.5" y2="489.7" stroke="#222" stroke-width="0.85"/>
<line x1="61.5" y1="486.5" x2="61.5" y2="489.7" stroke="#222" stroke-width="0.85"/>
<line x1="42.7" y1="420.5" x2="63.8" y2="420.5" stroke="#111" stroke-width="1.0"/>
<text x="53.8" y="419.3" font-size="7.4" font-weight="bold" text-anchor="middle" fill="#111">*</text>
<text transform="translate(18.7,454.8) rotate(-90)" x="-13.0" y="0" font-size="9.3" fill="#111" stroke="#111" stroke-width="0.32" textLength="26" lengthAdjust="spacingAndGlyphs">% CD14<tspan font-size="60%" baseline-shift="3.6">+</tspan></text>
<rect x="114.55" y="459.85" width="7.599999999999997" height="26.65" fill="#e88a9b" stroke="#d27b8c" stroke-width="0.7"/>
<rect x="127.64999999999999" y="449.65000000000003" width="8.000000000000004" height="36.84999999999999" fill="#86a9ca" stroke="#7093b6" stroke-width="0.7"/>
<circle cx="118" cy="443.9" r="1.75" fill="#c8103a"/>
<circle cx="118" cy="455.3" r="1.75" fill="#c8103a"/>
<circle cx="116" cy="460.2" r="1.75" fill="#c8103a"/>
<circle cx="120.4" cy="460.2" r="1.75" fill="#c8103a"/>
<circle cx="116.4" cy="463.1" r="1.75" fill="#c8103a"/>
<circle cx="120.4" cy="465.1" r="1.75" fill="#c8103a"/>
<circle cx="117.4" cy="469" r="1.75" fill="#c8103a"/>
<circle cx="120" cy="469" r="1.75" fill="#c8103a"/>
<rect x="130.25" y="435.15" width="3.1" height="3.1" fill="#17558f"/>
<rect x="127.25000000000001" y="443.95" width="3.1" height="3.1" fill="#17558f"/>
<rect x="132.54999999999998" y="443.95" width="3.1" height="3.1" fill="#17558f"/>
<rect x="130.25" y="447.84999999999997" width="3.1" height="3.1" fill="#17558f"/>
<rect x="128.25" y="451.75" width="3.1" height="3.1" fill="#17558f"/>
<rect x="132.54999999999998" y="454.75" width="3.1" height="3.1" fill="#17558f"/>
<rect x="128.64999999999998" y="458.65" width="3.1" height="3.1" fill="#17558f"/>
<rect x="130.25" y="461.55" width="3.1" height="3.1" fill="#17558f"/>
<line x1="118.4" y1="456.5" x2="118.4" y2="462.5" stroke="#7a0f25" stroke-width="0.7"/>
<line x1="116.60000000000001" y1="456.5" x2="120.2" y2="456.5" stroke="#7a0f25" stroke-width="0.7"/>
<line x1="116.60000000000001" y1="462.5" x2="120.2" y2="462.5" stroke="#7a0f25" stroke-width="0.7"/>
<line x1="131.6" y1="445.5" x2="131.6" y2="453" stroke="#0f3560" stroke-width="0.7"/>
<line x1="129.79999999999998" y1="445.5" x2="133.4" y2="445.5" stroke="#0f3560" stroke-width="0.7"/>
<line x1="129.79999999999998" y1="453" x2="133.4" y2="453" stroke="#0f3560" stroke-width="0.7"/>
<line x1="109.5" y1="421.90000000000003" x2="109.5" y2="487.0" stroke="#111" stroke-width="1.0"/>
<line x1="109.0" y1="486.5" x2="140" y2="486.5" stroke="#111" stroke-width="1.0"/>
<line x1="106.1" y1="486.5" x2="109.5" y2="486.5" stroke="#111" stroke-width="0.9"/>
<text x="103.5" y="489.09999999999997" font-size="8.2" text-anchor="end" fill="#111" stroke="#111" stroke-width="0.12">0</text>
<line x1="106.1" y1="465.5" x2="109.5" y2="465.5" stroke="#111" stroke-width="0.9"/>
<text x="103.5" y="468.56666666666666" font-size="8.2" text-anchor="end" fill="#111" stroke="#111" stroke-width="0.12">10</text>
<line x1="106.1" y1="444.5" x2="109.5" y2="444.5" stroke="#111" stroke-width="0.9"/>
<text x="103.5" y="448.0333333333333" font-size="8.2" text-anchor="end" fill="#111" stroke="#111" stroke-width="0.12">20</text>
<line x1="106.1" y1="424.5" x2="109.5" y2="424.5" stroke="#111" stroke-width="0.9"/>
<text x="103.5" y="427.5" font-size="8.2" text-anchor="end" fill="#111" stroke="#111" stroke-width="0.12">30</text>
<line x1="118.5" y1="486.5" x2="118.5" y2="489.7" stroke="#222" stroke-width="0.85"/>
<line x1="131.5" y1="486.5" x2="131.5" y2="489.7" stroke="#222" stroke-width="0.85"/>
<line x1="111" y1="420.5" x2="132.5" y2="420.5" stroke="#111" stroke-width="1.0"/>
<text x="122" y="419.7" font-size="7.4" font-weight="bold" text-anchor="middle" fill="#111">*</text>
<text transform="translate(89.69999999999999,453.4) rotate(-90)" x="-12.95" y="0" font-size="9.3" fill="#111" stroke="#111" stroke-width="0.32" textLength="25.9" lengthAdjust="spacingAndGlyphs">% TLR4<tspan font-size="60%" baseline-shift="3.6">+</tspan></text>
<rect x="186.54999999999998" y="470.55" width="7.900000000000023" height="15.950000000000012" fill="#e88a9b" stroke="#d27b8c" stroke-width="0.7"/>
<rect x="199.95" y="476.85" width="7.600000000000011" height="9.65" fill="#86a9ca" stroke="#7093b6" stroke-width="0.7"/>
<circle cx="190.5" cy="441.5" r="1.75" fill="#c8103a"/>
<circle cx="190.5" cy="456" r="1.75" fill="#c8103a"/>
<circle cx="190.5" cy="469.5" r="1.75" fill="#c8103a"/>
<circle cx="188" cy="472" r="1.75" fill="#c8103a"/>
<circle cx="193" cy="473" r="1.75" fill="#c8103a"/>
<circle cx="190" cy="476" r="1.75" fill="#c8103a"/>
<circle cx="192.5" cy="478.5" r="1.75" fill="#c8103a"/>
<circle cx="188.5" cy="480" r="1.75" fill="#c8103a"/>
<circle cx="191.5" cy="482" r="1.75" fill="#c8103a"/>
<rect x="202.14999999999998" y="467.45" width="3.1" height="3.1" fill="#17558f"/>
<rect x="204.45" y="470.45" width="3.1" height="3.1" fill="#17558f"/>
<rect x="199.95" y="472.95" width="3.1" height="3.1" fill="#17558f"/>
<rect x="203.45" y="474.45" width="3.1" height="3.1" fill="#17558f"/>
<rect x="200.45" y="476.45" width="3.1" height="3.1" fill="#17558f"/>
<rect x="204.45" y="476.95" width="3.1" height="3.1" fill="#17558f"/>
<rect x="202.14999999999998" y="479.45" width="3.1" height="3.1" fill="#17558f"/>
<rect x="199.95" y="480.45" width="3.1" height="3.1" fill="#17558f"/>
<rect x="204.45" y="480.95" width="3.1" height="3.1" fill="#17558f"/>
<line x1="190.5" y1="466.5" x2="190.5" y2="474" stroke="#7a0f25" stroke-width="0.7"/>
<line x1="188.7" y1="466.5" x2="192.3" y2="466.5" stroke="#7a0f25" stroke-width="0.7"/>
<line x1="188.7" y1="474" x2="192.3" y2="474" stroke="#7a0f25" stroke-width="0.7"/>
<line x1="203.7" y1="474" x2="203.7" y2="479" stroke="#0f3560" stroke-width="0.7"/>
<line x1="201.89999999999998" y1="474" x2="205.5" y2="474" stroke="#0f3560" stroke-width="0.7"/>
<line x1="201.89999999999998" y1="479" x2="205.5" y2="479" stroke="#0f3560" stroke-width="0.7"/>
<line x1="181.5" y1="421.90000000000003" x2="181.5" y2="487.0" stroke="#111" stroke-width="1.0"/>
<line x1="181.0" y1="486.5" x2="212" y2="486.5" stroke="#111" stroke-width="1.0"/>
<line x1="178.1" y1="486.5" x2="181.5" y2="486.5" stroke="#111" stroke-width="0.9"/>
<text x="175.5" y="489.09999999999997" font-size="8.2" text-anchor="end" fill="#111" stroke="#111" stroke-width="0.12">0.0</text>
<line x1="178.1" y1="470.5" x2="181.5" y2="470.5" stroke="#111" stroke-width="0.9"/>
<text x="175.5" y="473.7" font-size="8.2" text-anchor="end" fill="#111" stroke="#111" stroke-width="0.12">0.5</text>
<line x1="178.1" y1="455.5" x2="181.5" y2="455.5" stroke="#111" stroke-width="0.9"/>
<text x="175.5" y="458.29999999999995" font-size="8.2" text-anchor="end" fill="#111" stroke="#111" stroke-width="0.12">1.0</text>
<line x1="178.1" y1="439.5" x2="181.5" y2="439.5" stroke="#111" stroke-width="0.9"/>
<text x="175.5" y="442.9" font-size="8.2" text-anchor="end" fill="#111" stroke="#111" stroke-width="0.12">1.5</text>
<line x1="178.1" y1="424.5" x2="181.5" y2="424.5" stroke="#111" stroke-width="0.9"/>
<text x="175.5" y="427.5" font-size="8.2" text-anchor="end" fill="#111" stroke="#111" stroke-width="0.12">2.0</text>
<line x1="190.5" y1="486.5" x2="190.5" y2="489.7" stroke="#222" stroke-width="0.85"/>
<line x1="203.5" y1="486.5" x2="203.5" y2="489.7" stroke="#222" stroke-width="0.85"/>
<line x1="185.2" y1="420.5" x2="206.3" y2="420.5" stroke="#111" stroke-width="1.0"/>
<text x="0" y="0" font-size="7.4" font-weight="bold" text-anchor="middle" fill="#111"></text>
<text transform="translate(160.1,453.8) rotate(-90)" x="-17.35" y="0" font-size="9.3" fill="#111" stroke="#111" stroke-width="0.32" textLength="34.7" lengthAdjust="spacingAndGlyphs">% Arginase<tspan font-size="60%" baseline-shift="3.6">+</tspan></text>
<rect x="257.45000000000005" y="461.85" width="7.9999999999999885" height="24.65" fill="#e88a9b" stroke="#d27b8c" stroke-width="0.7"/>
<rect x="270.55" y="451.35" width="7.8" height="35.15" fill="#86a9ca" stroke="#7093b6" stroke-width="0.7"/>
<circle cx="261.5" cy="442" r="1.75" fill="#c8103a"/>
<circle cx="261.5" cy="449" r="1.75" fill="#c8103a"/>
<circle cx="261.5" cy="457.5" r="1.75" fill="#c8103a"/>
<circle cx="259" cy="461" r="1.75" fill="#c8103a"/>
<circle cx="264" cy="461.5" r="1.75" fill="#c8103a"/>
<circle cx="261.5" cy="464" r="1.75" fill="#c8103a"/>
<circle cx="260" cy="469" r="1.75" fill="#c8103a"/>
<circle cx="261.5" cy="474" r="1.75" fill="#c8103a"/>
<rect x="272.95" y="434.95" width="3.1" height="3.1" fill="#17558f"/>
<rect x="272.95" y="440.45" width="3.1" height="3.1" fill="#17558f"/>
<rect x="272.95" y="445.45" width="3.1" height="3.1" fill="#17558f"/>
<rect x="269.95" y="448.45" width="3.1" height="3.1" fill="#17558f"/>
<rect x="275.45" y="449.45" width="3.1" height="3.1" fill="#17558f"/>
<rect x="270.95" y="451.95" width="3.1" height="3.1" fill="#17558f"/>
<rect x="274.95" y="452.95" width="3.1" height="3.1" fill="#17558f"/>
<rect x="272.95" y="455.45" width="3.1" height="3.1" fill="#17558f"/>
<rect x="270.45" y="456.95" width="3.1" height="3.1" fill="#17558f"/>
<line x1="261.5" y1="457" x2="261.5" y2="466" stroke="#7a0f25" stroke-width="0.7"/>
<line x1="259.7" y1="457" x2="263.3" y2="457" stroke="#7a0f25" stroke-width="0.7"/>
<line x1="259.7" y1="466" x2="263.3" y2="466" stroke="#7a0f25" stroke-width="0.7"/>
<line x1="274.5" y1="447.5" x2="274.5" y2="454.5" stroke="#0f3560" stroke-width="0.7"/>
<line x1="272.7" y1="447.5" x2="276.3" y2="447.5" stroke="#0f3560" stroke-width="0.7"/>
<line x1="272.7" y1="454.5" x2="276.3" y2="454.5" stroke="#0f3560" stroke-width="0.7"/>
<line x1="252.5" y1="421.90000000000003" x2="252.5" y2="487.0" stroke="#111" stroke-width="1.0"/>
<line x1="252.0" y1="486.5" x2="283" y2="486.5" stroke="#111" stroke-width="1.0"/>
<line x1="249.1" y1="486.5" x2="252.5" y2="486.5" stroke="#111" stroke-width="0.9"/>
<text x="246.5" y="489.09999999999997" font-size="8.2" text-anchor="end" fill="#111" stroke="#111" stroke-width="0.12">0</text>
<line x1="249.1" y1="473.5" x2="252.5" y2="473.5" stroke="#111" stroke-width="0.9"/>
<text x="246.5" y="476.78" font-size="8.2" text-anchor="end" fill="#111" stroke="#111" stroke-width="0.12">10</text>
<line x1="249.1" y1="461.5" x2="252.5" y2="461.5" stroke="#111" stroke-width="0.9"/>
<text x="246.5" y="464.46" font-size="8.2" text-anchor="end" fill="#111" stroke="#111" stroke-width="0.12">20</text>
<line x1="249.1" y1="449.5" x2="252.5" y2="449.5" stroke="#111" stroke-width="0.9"/>
<text x="246.5" y="452.14" font-size="8.2" text-anchor="end" fill="#111" stroke="#111" stroke-width="0.12">30</text>
<line x1="249.1" y1="436.5" x2="252.5" y2="436.5" stroke="#111" stroke-width="0.9"/>
<text x="246.5" y="439.82" font-size="8.2" text-anchor="end" fill="#111" stroke="#111" stroke-width="0.12">40</text>
<line x1="249.1" y1="424.5" x2="252.5" y2="424.5" stroke="#111" stroke-width="0.9"/>
<text x="246.5" y="427.5" font-size="8.2" text-anchor="end" fill="#111" stroke="#111" stroke-width="0.12">50</text>
<line x1="261.5" y1="486.5" x2="261.5" y2="489.7" stroke="#222" stroke-width="0.85"/>
<line x1="274.5" y1="486.5" x2="274.5" y2="489.7" stroke="#222" stroke-width="0.85"/>
<line x1="255.2" y1="420.5" x2="276.3" y2="420.5" stroke="#111" stroke-width="1.0"/>
<text x="265.8" y="419.3" font-size="7.4" font-weight="bold" text-anchor="middle" fill="#111">*</text>
<text transform="translate(233.29999999999998,453.8) rotate(-90)" x="-12.5" y="0" font-size="9.3" fill="#111" stroke="#111" stroke-width="0.32" textLength="25" lengthAdjust="spacingAndGlyphs">% iNOS<tspan font-size="60%" baseline-shift="3.6">+</tspan></text>
<rect x="340.95000000000005" y="429.55" width="7.899999999999966" height="56.95000000000001" fill="#e88a9b" stroke="#d27b8c" stroke-width="0.7"/>
<rect x="354.05" y="428.85" width="7.900000000000023" height="57.65" fill="#86a9ca" stroke="#7093b6" stroke-width="0.7"/>
<circle cx="343" cy="428.5" r="1.75" fill="#c8103a"/>
<circle cx="346" cy="428" r="1.75" fill="#c8103a"/>
<circle cx="345" cy="430" r="1.75" fill="#c8103a"/>
<circle cx="342" cy="430.5" r="1.75" fill="#c8103a"/>
<circle cx="347.5" cy="430.5" r="1.75" fill="#c8103a"/>
<circle cx="344.5" cy="431.5" r="1.75" fill="#c8103a"/>
<rect x="354.45" y="426.45" width="3.1" height="3.1" fill="#17558f"/>
<rect x="357.95" y="425.95" width="3.1" height="3.1" fill="#17558f"/>
<rect x="356.45" y="427.95" width="3.1" height="3.1" fill="#17558f"/>
<rect x="353.95" y="428.45" width="3.1" height="3.1" fill="#17558f"/>
<rect x="358.95" y="428.45" width="3.1" height="3.1" fill="#17558f"/>
<line x1="336.5" y1="422.3" x2="336.5" y2="487.0" stroke="#111" stroke-width="1.0"/>
<line x1="336.0" y1="486.5" x2="366.5" y2="486.5" stroke="#111" stroke-width="1.0"/>
<line x1="333.1" y1="486.5" x2="336.5" y2="486.5" stroke="#111" stroke-width="0.9"/>
<text x="330.5" y="489.09999999999997" font-size="8.2" text-anchor="end" fill="#111" stroke="#111" stroke-width="0.12">0</text>
<line x1="333.1" y1="473.5" x2="336.5" y2="473.5" stroke="#111" stroke-width="0.9"/>
<text x="330.5" y="476.85999999999996" font-size="8.2" text-anchor="end" fill="#111" stroke="#111" stroke-width="0.12">20</text>
<line x1="333.1" y1="461.5" x2="336.5" y2="461.5" stroke="#111" stroke-width="0.9"/>
<text x="330.5" y="464.61999999999995" font-size="8.2" text-anchor="end" fill="#111" stroke="#111" stroke-width="0.12">40</text>
<line x1="333.1" y1="449.5" x2="336.5" y2="449.5" stroke="#111" stroke-width="0.9"/>
<text x="330.5" y="452.38" font-size="8.2" text-anchor="end" fill="#111" stroke="#111" stroke-width="0.12">60</text>
<line x1="333.1" y1="437.5" x2="336.5" y2="437.5" stroke="#111" stroke-width="0.9"/>
<text x="330.5" y="440.14" font-size="8.2" text-anchor="end" fill="#111" stroke="#111" stroke-width="0.12">80</text>
<line x1="333.1" y1="424.5" x2="336.5" y2="424.5" stroke="#111" stroke-width="0.9"/>
<text x="330.5" y="427.9" font-size="8.2" text-anchor="end" fill="#111" stroke="#111" stroke-width="0.12">100</text>
<line x1="344.5" y1="486.5" x2="344.5" y2="489.7" stroke="#222" stroke-width="0.85"/>
<line x1="357.5" y1="486.5" x2="357.5" y2="489.7" stroke="#222" stroke-width="0.85"/>
<line x1="340.6" y1="420.5" x2="361.3" y2="420.5" stroke="#111" stroke-width="1.0"/>
<text x="351" y="418.2" font-size="7.6" text-anchor="middle" fill="#1a1a1a">ns</text>
<text transform="translate(311.1,453.8) rotate(-90)" x="-12.75" y="0" font-size="9.3" fill="#111" stroke="#111" stroke-width="0.32" textLength="25.5" lengthAdjust="spacingAndGlyphs">% CD14<tspan font-size="60%" baseline-shift="3.6">+</tspan></text>
<rect x="405.95000000000005" y="466.65000000000003" width="7.4999999999999885" height="19.849999999999987" fill="#e88a9b" stroke="#d27b8c" stroke-width="0.7"/>
<rect x="419.35" y="446.55" width="7.600000000000011" height="39.95000000000001" fill="#86a9ca" stroke="#7093b6" stroke-width="0.7"/>
<circle cx="409.8" cy="443" r="1.75" fill="#c8103a"/>
<circle cx="409.8" cy="455.5" r="1.75" fill="#c8103a"/>
<circle cx="409.8" cy="463.5" r="1.75" fill="#c8103a"/>
<circle cx="407" cy="466.5" r="1.75" fill="#c8103a"/>
<circle cx="412" cy="467" r="1.75" fill="#c8103a"/>
<circle cx="409" cy="470" r="1.75" fill="#c8103a"/>
<circle cx="412.5" cy="472" r="1.75" fill="#c8103a"/>
<circle cx="408" cy="475" r="1.75" fill="#c8103a"/>
<circle cx="410" cy="478.5" r="1.75" fill="#c8103a"/>
<rect x="421.65" y="431.95" width="3.1" height="3.1" fill="#17558f"/>
<rect x="421.65" y="437.45" width="3.1" height="3.1" fill="#17558f"/>
<rect x="418.95" y="443.45" width="3.1" height="3.1" fill="#17558f"/>
<rect x="423.95" y="443.95" width="3.1" height="3.1" fill="#17558f"/>
<rect x="421.65" y="445.95" width="3.1" height="3.1" fill="#17558f"/>
<rect x="419.45" y="446.95" width="3.1" height="3.1" fill="#17558f"/>
<rect x="423.95" y="447.45" width="3.1" height="3.1" fill="#17558f"/>
<rect x="421.65" y="452.45" width="3.1" height="3.1" fill="#17558f"/>
<rect x="419.45" y="457.45" width="3.1" height="3.1" fill="#17558f"/>
<line x1="409.8" y1="462.5" x2="409.8" y2="470" stroke="#7a0f25" stroke-width="0.7"/>
<line x1="408.0" y1="462.5" x2="411.6" y2="462.5" stroke="#7a0f25" stroke-width="0.7"/>
<line x1="408.0" y1="470" x2="411.6" y2="470" stroke="#7a0f25" stroke-width="0.7"/>
<line x1="423.2" y1="443.5" x2="423.2" y2="449" stroke="#0f3560" stroke-width="0.7"/>
<line x1="421.4" y1="443.5" x2="425.0" y2="443.5" stroke="#0f3560" stroke-width="0.7"/>
<line x1="421.4" y1="449" x2="425.0" y2="449" stroke="#0f3560" stroke-width="0.7"/>
<line x1="400.5" y1="422.7" x2="400.5" y2="487.0" stroke="#111" stroke-width="1.0"/>
<line x1="400.0" y1="486.5" x2="432" y2="486.5" stroke="#111" stroke-width="1.0"/>
<line x1="397.1" y1="486.5" x2="400.5" y2="486.5" stroke="#111" stroke-width="0.9"/>
<text x="394.5" y="489.09999999999997" font-size="8.2" text-anchor="end" fill="#111" stroke="#111" stroke-width="0.12">0</text>
<line x1="397.1" y1="470.5" x2="400.5" y2="470.5" stroke="#111" stroke-width="0.9"/>
<text x="394.5" y="473.9" font-size="8.2" text-anchor="end" fill="#111" stroke="#111" stroke-width="0.12">2</text>
<line x1="397.1" y1="455.5" x2="400.5" y2="455.5" stroke="#111" stroke-width="0.9"/>
<text x="394.5" y="458.69999999999993" font-size="8.2" text-anchor="end" fill="#111" stroke="#111" stroke-width="0.12">4</text>
<line x1="397.1" y1="440.5" x2="400.5" y2="440.5" stroke="#111" stroke-width="0.9"/>
<text x="394.5" y="443.49999999999994" font-size="8.2" text-anchor="end" fill="#111" stroke="#111" stroke-width="0.12">6</text>
<line x1="397.1" y1="425.5" x2="400.5" y2="425.5" stroke="#111" stroke-width="0.9"/>
<text x="394.5" y="428.29999999999995" font-size="8.2" text-anchor="end" fill="#111" stroke="#111" stroke-width="0.12">8</text>
<line x1="409.5" y1="486.5" x2="409.5" y2="489.7" stroke="#222" stroke-width="0.85"/>
<line x1="422.5" y1="486.5" x2="422.5" y2="489.7" stroke="#222" stroke-width="0.85"/>
<line x1="403.7" y1="418.5" x2="424.8" y2="418.5" stroke="#111" stroke-width="1.0"/>
<text x="414.2" y="417.7" font-size="7.4" font-weight="bold" text-anchor="middle" fill="#111">**</text>
<text transform="translate(385.20000000000005,454.2) rotate(-90)" x="-12.85" y="0" font-size="9.3" fill="#111" stroke="#111" stroke-width="0.32" textLength="25.7" lengthAdjust="spacingAndGlyphs">% TLR4<tspan font-size="60%" baseline-shift="3.6">+</tspan></text>
<rect x="41.65" y="595.0500000000001" width="7.7000000000000055" height="19.449999999999953" fill="#e88a9b" stroke="#d27b8c" stroke-width="0.7"/>
<rect x="54.45" y="582.45" width="8.099999999999998" height="32.049999999999976" fill="#86a9ca" stroke="#7093b6" stroke-width="0.7"/>
<circle cx="45.3" cy="587.7" r="1.75" fill="#c8103a"/>
<circle cx="46.6" cy="587.0" r="1.75" fill="#c8103a"/>
<circle cx="42.2" cy="595.5" r="1.75" fill="#c8103a"/>
<circle cx="45.3" cy="596" r="1.75" fill="#c8103a"/>
<circle cx="47.9" cy="595.5" r="1.75" fill="#c8103a"/>
<circle cx="43.7" cy="597.5" r="1.75" fill="#c8103a"/>
<circle cx="46.3" cy="600.6" r="1.75" fill="#c8103a"/>
<circle cx="44.8" cy="601.6" r="1.75" fill="#c8103a"/>
<rect x="53.550000000000004" y="555.45" width="3.1" height="3.1" fill="#17558f"/>
<rect x="59.75" y="557.95" width="3.1" height="3.1" fill="#17558f"/>
<rect x="56.650000000000006" y="579.45" width="3.1" height="3.1" fill="#17558f"/>
<rect x="54.050000000000004" y="589.25" width="3.1" height="3.1" fill="#17558f"/>
<rect x="59.75" y="588.25" width="3.1" height="3.1" fill="#17558f"/>
<rect x="59.75" y="590.85" width="3.1" height="3.1" fill="#17558f"/>
<rect x="56.650000000000006" y="598.45" width="3.1" height="3.1" fill="#17558f"/>
<line x1="45.5" y1="592" x2="45.5" y2="597" stroke="#7a0f25" stroke-width="0.7"/>
<line x1="43.7" y1="592" x2="47.3" y2="592" stroke="#7a0f25" stroke-width="0.7"/>
<line x1="43.7" y1="597" x2="47.3" y2="597" stroke="#7a0f25" stroke-width="0.7"/>
<line x1="58.5" y1="576" x2="58.5" y2="587.5" stroke="#0f3560" stroke-width="0.7"/>
<line x1="56.7" y1="576" x2="60.3" y2="576" stroke="#0f3560" stroke-width="0.7"/>
<line x1="56.7" y1="587.5" x2="60.3" y2="587.5" stroke="#0f3560" stroke-width="0.7"/>
<line x1="36.5" y1="550.5" x2="36.5" y2="615.0" stroke="#111" stroke-width="1.0"/>
<line x1="36.0" y1="614.5" x2="67.2" y2="614.5" stroke="#111" stroke-width="1.0"/>
<line x1="33.1" y1="614.5" x2="36.5" y2="614.5" stroke="#111" stroke-width="0.9"/>
<text x="30.5" y="617.3" font-size="8.2" text-anchor="end" fill="#111" stroke="#111" stroke-width="0.12">0</text>
<line x1="33.1" y1="598.5" x2="36.5" y2="598.5" stroke="#111" stroke-width="0.9"/>
<text x="30.5" y="602.0" font-size="8.2" text-anchor="end" fill="#111" stroke="#111" stroke-width="0.12">10</text>
<line x1="33.1" y1="583.5" x2="36.5" y2="583.5" stroke="#111" stroke-width="0.9"/>
<text x="30.5" y="586.6999999999999" font-size="8.2" text-anchor="end" fill="#111" stroke="#111" stroke-width="0.12">20</text>
<line x1="33.1" y1="568.5" x2="36.5" y2="568.5" stroke="#111" stroke-width="0.9"/>
<text x="30.5" y="571.4" font-size="8.2" text-anchor="end" fill="#111" stroke="#111" stroke-width="0.12">30</text>
<line x1="33.1" y1="553.5" x2="36.5" y2="553.5" stroke="#111" stroke-width="0.9"/>
<text x="30.5" y="556.1" font-size="8.2" text-anchor="end" fill="#111" stroke="#111" stroke-width="0.12">40</text>
<line x1="45.5" y1="614.5" x2="45.5" y2="617.7" stroke="#222" stroke-width="0.85"/>
<line x1="58.5" y1="614.5" x2="58.5" y2="617.7" stroke="#222" stroke-width="0.85"/>
<line x1="37.7" y1="548.5" x2="59.7" y2="548.5" stroke="#111" stroke-width="1.0"/>
<text x="49.3" y="546.9" font-size="7.4" font-weight="bold" text-anchor="middle" fill="#111">*</text>
<text x="39.8" y="629.6" font-size="9.8" fill="#111" stroke="#111" stroke-width="0.32" textLength="24.1" lengthAdjust="spacingAndGlyphs">p-NF&#954;B</text>
<text transform="translate(14.9,582) rotate(-90)" x="-11.25" y="0" font-size="9.3" fill="#111" stroke="#111" stroke-width="0.32" textLength="22.5" lengthAdjust="spacingAndGlyphs">Percent</text>
<rect x="97.14999999999999" y="578.75" width="8.099999999999998" height="35.75000000000002" fill="#e88a9b" stroke="#d27b8c" stroke-width="0.7"/>
<rect x="110.14999999999999" y="580.85" width="8.099999999999998" height="33.65" fill="#86a9ca" stroke="#7093b6" stroke-width="0.7"/>
<circle cx="97.7" cy="568.6" r="1.75" fill="#c8103a"/>
<circle cx="103.3" cy="571" r="1.75" fill="#c8103a"/>
<circle cx="98.5" cy="574.2" r="1.75" fill="#c8103a"/>
<circle cx="104.1" cy="575" r="1.75" fill="#c8103a"/>
<circle cx="100.9" cy="578.3" r="1.75" fill="#c8103a"/>
<circle cx="98.5" cy="582.3" r="1.75" fill="#c8103a"/>
<circle cx="104.1" cy="582.3" r="1.75" fill="#c8103a"/>
<circle cx="97.7" cy="592.8" r="1.75" fill="#c8103a"/>
<circle cx="104.1" cy="592.8" r="1.75" fill="#c8103a"/>
<rect x="112.25" y="555.25" width="3.1" height="3.1" fill="#17558f"/>
<rect x="112.25" y="563.75" width="3.1" height="3.1" fill="#17558f"/>
<rect x="109.05" y="575.85" width="3.1" height="3.1" fill="#17558f"/>
<rect x="114.65" y="577.45" width="3.1" height="3.1" fill="#17558f"/>
<rect x="113.05" y="585.5500000000001" width="3.1" height="3.1" fill="#17558f"/>
<rect x="114.65" y="601.75" width="3.1" height="3.1" fill="#17558f"/>
<rect x="109.85000000000001" y="604.95" width="3.1" height="3.1" fill="#17558f"/>
<line x1="101.2" y1="575" x2="101.2" y2="581.5" stroke="#7a0f25" stroke-width="0.7"/>
<line x1="99.4" y1="575" x2="103.0" y2="575" stroke="#7a0f25" stroke-width="0.7"/>
<line x1="99.4" y1="581.5" x2="103.0" y2="581.5" stroke="#7a0f25" stroke-width="0.7"/>
<line x1="114.2" y1="574" x2="114.2" y2="587" stroke="#0f3560" stroke-width="0.7"/>
<line x1="112.4" y1="574" x2="116.0" y2="574" stroke="#0f3560" stroke-width="0.7"/>
<line x1="112.4" y1="587" x2="116.0" y2="587" stroke="#0f3560" stroke-width="0.7"/>
<line x1="92.5" y1="550.5" x2="92.5" y2="615.0" stroke="#111" stroke-width="1.0"/>
<line x1="92.0" y1="614.5" x2="122.5" y2="614.5" stroke="#111" stroke-width="1.0"/>
<line x1="89.1" y1="614.5" x2="92.5" y2="614.5" stroke="#111" stroke-width="0.9"/>
<text x="86.5" y="617.3" font-size="8.2" text-anchor="end" fill="#111" stroke="#111" stroke-width="0.12">0</text>
<line x1="89.1" y1="593.5" x2="92.5" y2="593.5" stroke="#111" stroke-width="0.9"/>
<text x="86.5" y="596.9" font-size="8.2" text-anchor="end" fill="#111" stroke="#111" stroke-width="0.12">20</text>
<line x1="89.1" y1="573.5" x2="92.5" y2="573.5" stroke="#111" stroke-width="0.9"/>
<text x="86.5" y="576.5" font-size="8.2" text-anchor="end" fill="#111" stroke="#111" stroke-width="0.12">40</text>
<line x1="89.1" y1="553.5" x2="92.5" y2="553.5" stroke="#111" stroke-width="0.9"/>
<text x="86.5" y="556.1" font-size="8.2" text-anchor="end" fill="#111" stroke="#111" stroke-width="0.12">60</text>
<line x1="100.5" y1="614.5" x2="100.5" y2="617.7" stroke="#222" stroke-width="0.85"/>
<line x1="113.5" y1="614.5" x2="113.5" y2="617.7" stroke="#222" stroke-width="0.85"/>
<line x1="96.8" y1="548.5" x2="118.6" y2="548.5" stroke="#111" stroke-width="1.0"/>
<text x="107.7" y="546.0" font-size="7.6" text-anchor="middle" fill="#1a1a1a">ns</text>
<text x="98.1" y="629.6" font-size="9.8" fill="#111" stroke="#111" stroke-width="0.32" textLength="18.80000000000001" lengthAdjust="spacingAndGlyphs">p-ERK</text>
<rect x="152.54999999999998" y="601.75" width="8.100000000000012" height="12.750000000000023" fill="#e88a9b" stroke="#d27b8c" stroke-width="0.7"/>
<rect x="165.54999999999998" y="598.65" width="8.100000000000012" height="15.850000000000046" fill="#86a9ca" stroke="#7093b6" stroke-width="0.7"/>
<circle cx="156.6" cy="576.6" r="1.75" fill="#c8103a"/>
<circle cx="156.6" cy="587.4" r="1.75" fill="#c8103a"/>
<circle cx="156.6" cy="598.3" r="1.75" fill="#c8103a"/>
<circle cx="153.4" cy="603.1" r="1.75" fill="#c8103a"/>
<circle cx="158.2" cy="604.8" r="1.75" fill="#c8103a"/>
<circle cx="153.4" cy="611.3" r="1.75" fill="#c8103a"/>
<circle cx="158.2" cy="611.3" r="1.75" fill="#c8103a"/>
<rect x="167.95" y="573.45" width="3.1" height="3.1" fill="#17558f"/>
<rect x="167.95" y="580.75" width="3.1" height="3.1" fill="#17558f"/>
<rect x="166.35" y="596.75" width="3.1" height="3.1" fill="#17558f"/>
<rect x="171.25" y="598.45" width="3.1" height="3.1" fill="#17558f"/>
<rect x="165.54999999999998" y="603.25" width="3.1" height="3.1" fill="#17558f"/>
<rect x="170.35" y="603.25" width="3.1" height="3.1" fill="#17558f"/>
<rect x="166.35" y="608.1500000000001" width="3.1" height="3.1" fill="#17558f"/>
<rect x="170.35" y="608.1500000000001" width="3.1" height="3.1" fill="#17558f"/>
<line x1="156.6" y1="596.5" x2="156.6" y2="606" stroke="#7a0f25" stroke-width="0.7"/>
<line x1="154.79999999999998" y1="596.5" x2="158.4" y2="596.5" stroke="#7a0f25" stroke-width="0.7"/>
<line x1="154.79999999999998" y1="606" x2="158.4" y2="606" stroke="#7a0f25" stroke-width="0.7"/>
<line x1="169.6" y1="593" x2="169.6" y2="603.5" stroke="#0f3560" stroke-width="0.7"/>
<line x1="167.79999999999998" y1="593" x2="171.4" y2="593" stroke="#0f3560" stroke-width="0.7"/>
<line x1="167.79999999999998" y1="603.5" x2="171.4" y2="603.5" stroke="#0f3560" stroke-width="0.7"/>
<line x1="147.5" y1="550.5" x2="147.5" y2="615.0" stroke="#111" stroke-width="1.0"/>
<line x1="147.0" y1="614.5" x2="178.2" y2="614.5" stroke="#111" stroke-width="1.0"/>
<line x1="144.1" y1="614.5" x2="147.5" y2="614.5" stroke="#111" stroke-width="0.9"/>
<text x="141.5" y="617.3" font-size="8.2" text-anchor="end" fill="#111" stroke="#111" stroke-width="0.12">0</text>
<line x1="144.1" y1="593.5" x2="147.5" y2="593.5" stroke="#111" stroke-width="0.9"/>
<text x="141.5" y="596.9" font-size="8.2" text-anchor="end" fill="#111" stroke="#111" stroke-width="0.12">5</text>
<line x1="144.1" y1="573.5" x2="147.5" y2="573.5" stroke="#111" stroke-width="0.9"/>
<text x="141.5" y="576.5" font-size="8.2" text-anchor="end" fill="#111" stroke="#111" stroke-width="0.12">10</text>
<line x1="144.1" y1="553.5" x2="147.5" y2="553.5" stroke="#111" stroke-width="0.9"/>
<text x="141.5" y="556.1" font-size="8.2" text-anchor="end" fill="#111" stroke="#111" stroke-width="0.12">15</text>
<line x1="156.5" y1="614.5" x2="156.5" y2="617.7" stroke="#222" stroke-width="0.85"/>
<line x1="169.5" y1="614.5" x2="169.5" y2="617.7" stroke="#222" stroke-width="0.85"/>
<line x1="152.6" y1="548.5" x2="174" y2="548.5" stroke="#111" stroke-width="1.0"/>
<text x="163" y="546.0" font-size="7.6" text-anchor="middle" fill="#1a1a1a">ns</text>
<text x="152.6" y="629.6" font-size="9.8" fill="#111" stroke="#111" stroke-width="0.32" textLength="19.900000000000006" lengthAdjust="spacingAndGlyphs">p-P38</text>
<rect x="207.85" y="595.0500000000001" width="7.7000000000000055" height="19.449999999999953" fill="#e88a9b" stroke="#d27b8c" stroke-width="0.7"/>
<rect x="221.04999999999998" y="581.85" width="7.7000000000000055" height="32.65" fill="#86a9ca" stroke="#7093b6" stroke-width="0.7"/>
<circle cx="211.7" cy="588" r="1.75" fill="#c8103a"/>
<circle cx="209" cy="590" r="1.75" fill="#c8103a"/>
<circle cx="214.5" cy="590.5" r="1.75" fill="#c8103a"/>
<circle cx="210" cy="593" r="1.75" fill="#c8103a"/>
<circle cx="213.5" cy="594" r="1.75" fill="#c8103a"/>
<circle cx="211.7" cy="596" r="1.75" fill="#c8103a"/>
<circle cx="209.5" cy="598" r="1.75" fill="#c8103a"/>
<circle cx="213.5" cy="599" r="1.75" fill="#c8103a"/>
<circle cx="211.7" cy="602" r="1.75" fill="#c8103a"/>
<rect x="220.95" y="558.45" width="3.1" height="3.1" fill="#17558f"/>
<rect x="226.45" y="556.95" width="3.1" height="3.1" fill="#17558f"/>
<rect x="223.45" y="574.45" width="3.1" height="3.1" fill="#17558f"/>
<rect x="221.45" y="578.95" width="3.1" height="3.1" fill="#17558f"/>
<rect x="225.95" y="579.45" width="3.1" height="3.1" fill="#17558f"/>
<rect x="222.95" y="583.45" width="3.1" height="3.1" fill="#17558f"/>
<rect x="220.95" y="588.45" width="3.1" height="3.1" fill="#17558f"/>
<rect x="225.95" y="587.95" width="3.1" height="3.1" fill="#17558f"/>
<rect x="223.45" y="595.45" width="3.1" height="3.1" fill="#17558f"/>
<line x1="211.7" y1="592" x2="211.7" y2="597.5" stroke="#7a0f25" stroke-width="0.7"/>
<line x1="209.89999999999998" y1="592" x2="213.5" y2="592" stroke="#7a0f25" stroke-width="0.7"/>
<line x1="209.89999999999998" y1="597.5" x2="213.5" y2="597.5" stroke="#7a0f25" stroke-width="0.7"/>
<line x1="224.9" y1="575" x2="224.9" y2="588" stroke="#0f3560" stroke-width="0.7"/>
<line x1="223.1" y1="575" x2="226.70000000000002" y2="575" stroke="#0f3560" stroke-width="0.7"/>
<line x1="223.1" y1="588" x2="226.70000000000002" y2="588" stroke="#0f3560" stroke-width="0.7"/>
<line x1="202.5" y1="550.5" x2="202.5" y2="615.0" stroke="#111" stroke-width="1.0"/>
<line x1="202.0" y1="614.5" x2="233.4" y2="614.5" stroke="#111" stroke-width="1.0"/>
<line x1="199.1" y1="614.5" x2="202.5" y2="614.5" stroke="#111" stroke-width="0.9"/>
<text x="196.5" y="617.3" font-size="8.2" text-anchor="end" fill="#111" stroke="#111" stroke-width="0.12">0</text>
<line x1="199.1" y1="601.5" x2="202.5" y2="601.5" stroke="#111" stroke-width="0.9"/>
<text x="196.5" y="605.06" font-size="8.2" text-anchor="end" fill="#111" stroke="#111" stroke-width="0.12">10</text>
<line x1="199.1" y1="589.5" x2="202.5" y2="589.5" stroke="#111" stroke-width="0.9"/>
<text x="196.5" y="592.8199999999999" font-size="8.2" text-anchor="end" fill="#111" stroke="#111" stroke-width="0.12">20</text>
<line x1="199.1" y1="577.5" x2="202.5" y2="577.5" stroke="#111" stroke-width="0.9"/>
<text x="196.5" y="580.58" font-size="8.2" text-anchor="end" fill="#111" stroke="#111" stroke-width="0.12">30</text>
<line x1="199.1" y1="565.5" x2="202.5" y2="565.5" stroke="#111" stroke-width="0.9"/>
<text x="196.5" y="568.34" font-size="8.2" text-anchor="end" fill="#111" stroke="#111" stroke-width="0.12">40</text>
<line x1="199.1" y1="553.5" x2="202.5" y2="553.5" stroke="#111" stroke-width="0.9"/>
<text x="196.5" y="556.1" font-size="8.2" text-anchor="end" fill="#111" stroke="#111" stroke-width="0.12">50</text>
<line x1="211.5" y1="614.5" x2="211.5" y2="617.7" stroke="#222" stroke-width="0.85"/>
<line x1="224.5" y1="614.5" x2="224.5" y2="617.7" stroke="#222" stroke-width="0.85"/>
<line x1="204.4" y1="548.5" x2="226" y2="548.5" stroke="#111" stroke-width="1.0"/>
<text x="215" y="546.9" font-size="7.4" font-weight="bold" text-anchor="middle" fill="#111">*</text>
<text x="209.2" y="629.6" font-size="9.8" fill="#111" stroke="#111" stroke-width="0.32" textLength="18.80000000000001" lengthAdjust="spacingAndGlyphs">p-JNK</text>
<rect x="284.05" y="594.15" width="7.900000000000023" height="20.350000000000044" fill="#e88a9b" stroke="#d27b8c" stroke-width="0.7"/>
<rect x="297.25" y="574.15" width="8.3" height="40.350000000000044" fill="#86a9ca" stroke="#7093b6" stroke-width="0.7"/>
<circle cx="285" cy="587" r="1.75" fill="#c8103a"/>
<circle cx="290.5" cy="587" r="1.75" fill="#c8103a"/>
<circle cx="288" cy="589.5" r="1.75" fill="#c8103a"/>
<circle cx="285.5" cy="592" r="1.75" fill="#c8103a"/>
<circle cx="291" cy="593" r="1.75" fill="#c8103a"/>
<circle cx="288" cy="595" r="1.75" fill="#c8103a"/>
<circle cx="287" cy="600" r="1.75" fill="#c8103a"/>
<circle cx="289.5" cy="602" r="1.75" fill="#c8103a"/>
<circle cx="288" cy="606" r="1.75" fill="#c8103a"/>
<rect x="299.84999999999997" y="561.45" width="3.1" height="3.1" fill="#17558f"/>
<rect x="299.84999999999997" y="565.45" width="3.1" height="3.1" fill="#17558f"/>
<rect x="296.95" y="570.45" width="3.1" height="3.1" fill="#17558f"/>
<rect x="302.45" y="571.45" width="3.1" height="3.1" fill="#17558f"/>
<rect x="299.84999999999997" y="573.95" width="3.1" height="3.1" fill="#17558f"/>
<rect x="296.95" y="576.95" width="3.1" height="3.1" fill="#17558f"/>
<rect x="302.45" y="576.95" width="3.1" height="3.1" fill="#17558f"/>
<rect x="299.84999999999997" y="581.45" width="3.1" height="3.1" fill="#17558f"/>
<rect x="299.45" y="586.45" width="3.1" height="3.1" fill="#17558f"/>
<line x1="288" y1="590" x2="288" y2="599" stroke="#7a0f25" stroke-width="0.7"/>
<line x1="286.2" y1="590" x2="289.8" y2="590" stroke="#7a0f25" stroke-width="0.7"/>
<line x1="286.2" y1="599" x2="289.8" y2="599" stroke="#7a0f25" stroke-width="0.7"/>
<line x1="301.4" y1="571" x2="301.4" y2="578" stroke="#0f3560" stroke-width="0.7"/>
<line x1="299.59999999999997" y1="571" x2="303.2" y2="571" stroke="#0f3560" stroke-width="0.7"/>
<line x1="299.59999999999997" y1="578" x2="303.2" y2="578" stroke="#0f3560" stroke-width="0.7"/>
<line x1="279.5" y1="550.5" x2="279.5" y2="615.0" stroke="#111" stroke-width="1.0"/>
<line x1="279.0" y1="614.5" x2="309.6" y2="614.5" stroke="#111" stroke-width="1.0"/>
<line x1="276.1" y1="614.5" x2="279.5" y2="614.5" stroke="#111" stroke-width="0.9"/>
<text x="273.5" y="617.3" font-size="8.2" text-anchor="end" fill="#111" stroke="#111" stroke-width="0.12">0</text>
<line x1="276.1" y1="598.5" x2="279.5" y2="598.5" stroke="#111" stroke-width="0.9"/>
<text x="273.5" y="602.0" font-size="8.2" text-anchor="end" fill="#111" stroke="#111" stroke-width="0.12">20</text>
<line x1="276.1" y1="583.5" x2="279.5" y2="583.5" stroke="#111" stroke-width="0.9"/>
<text x="273.5" y="586.6999999999999" font-size="8.2" text-anchor="end" fill="#111" stroke="#111" stroke-width="0.12">40</text>
<line x1="276.1" y1="568.5" x2="279.5" y2="568.5" stroke="#111" stroke-width="0.9"/>
<text x="273.5" y="571.4" font-size="8.2" text-anchor="end" fill="#111" stroke="#111" stroke-width="0.12">60</text>
<line x1="276.1" y1="553.5" x2="279.5" y2="553.5" stroke="#111" stroke-width="0.9"/>
<text x="273.5" y="556.1" font-size="8.2" text-anchor="end" fill="#111" stroke="#111" stroke-width="0.12">80</text>
<line x1="287.5" y1="614.5" x2="287.5" y2="617.7" stroke="#222" stroke-width="0.85"/>
<line x1="301.5" y1="614.5" x2="301.5" y2="617.7" stroke="#222" stroke-width="0.85"/>
<line x1="280.6" y1="548.5" x2="301.5" y2="548.5" stroke="#111" stroke-width="1.0"/>
<text x="291.7" y="546.9" font-size="7.4" font-weight="bold" text-anchor="middle" fill="#111">***</text>
<text x="282.3" y="629.6" font-size="9.8" fill="#111" stroke="#111" stroke-width="0.32" textLength="24.099999999999966" lengthAdjust="spacingAndGlyphs">p-NF&#954;B</text>
<text transform="translate(258.2,582) rotate(-90)" x="-11.25" y="0" font-size="9.3" fill="#111" stroke="#111" stroke-width="0.32" textLength="22.5" lengthAdjust="spacingAndGlyphs">Percent</text>
<rect x="339.15000000000003" y="602.15" width="8.3" height="12.350000000000046" fill="#e88a9b" stroke="#d27b8c" stroke-width="0.7"/>
<rect x="352.65000000000003" y="591.75" width="7.9999999999999885" height="22.75000000000002" fill="#86a9ca" stroke="#7093b6" stroke-width="0.7"/>
<circle cx="343.2" cy="594" r="1.75" fill="#c8103a"/>
<circle cx="340.5" cy="597" r="1.75" fill="#c8103a"/>
<circle cx="346" cy="597.5" r="1.75" fill="#c8103a"/>
<circle cx="343.2" cy="600" r="1.75" fill="#c8103a"/>
<circle cx="341" cy="602" r="1.75" fill="#c8103a"/>
<circle cx="345.5" cy="603" r="1.75" fill="#c8103a"/>
<circle cx="343.2" cy="605" r="1.75" fill="#c8103a"/>
<circle cx="341" cy="608" r="1.75" fill="#c8103a"/>
<circle cx="345" cy="609.5" r="1.75" fill="#c8103a"/>
<rect x="355.05" y="561.95" width="3.1" height="3.1" fill="#17558f"/>
<rect x="355.05" y="571.95" width="3.1" height="3.1" fill="#17558f"/>
<rect x="352.45" y="590.45" width="3.1" height="3.1" fill="#17558f"/>
<rect x="357.45" y="591.45" width="3.1" height="3.1" fill="#17558f"/>
<rect x="355.05" y="594.45" width="3.1" height="3.1" fill="#17558f"/>
<rect x="353.45" y="598.45" width="3.1" height="3.1" fill="#17558f"/>
<rect x="356.95" y="599.45" width="3.1" height="3.1" fill="#17558f"/>
<rect x="355.05" y="605.45" width="3.1" height="3.1" fill="#17558f"/>
<line x1="343.2" y1="598" x2="343.2" y2="605" stroke="#7a0f25" stroke-width="0.7"/>
<line x1="341.4" y1="598" x2="345.0" y2="598" stroke="#7a0f25" stroke-width="0.7"/>
<line x1="341.4" y1="605" x2="345.0" y2="605" stroke="#7a0f25" stroke-width="0.7"/>
<line x1="356.6" y1="585" x2="356.6" y2="597.5" stroke="#0f3560" stroke-width="0.7"/>
<line x1="354.8" y1="585" x2="358.40000000000003" y2="585" stroke="#0f3560" stroke-width="0.7"/>
<line x1="354.8" y1="597.5" x2="358.40000000000003" y2="597.5" stroke="#0f3560" stroke-width="0.7"/>
<line x1="334.5" y1="550.5" x2="334.5" y2="615.0" stroke="#111" stroke-width="1.0"/>
<line x1="334.0" y1="614.5" x2="365.0" y2="614.5" stroke="#111" stroke-width="1.0"/>
<line x1="331.1" y1="614.5" x2="334.5" y2="614.5" stroke="#111" stroke-width="0.9"/>
<text x="328.5" y="617.3" font-size="8.2" text-anchor="end" fill="#111" stroke="#111" stroke-width="0.12">0</text>
<line x1="331.1" y1="601.5" x2="334.5" y2="601.5" stroke="#111" stroke-width="0.9"/>
<text x="328.5" y="605.06" font-size="8.2" text-anchor="end" fill="#111" stroke="#111" stroke-width="0.12">10</text>
<line x1="331.1" y1="589.5" x2="334.5" y2="589.5" stroke="#111" stroke-width="0.9"/>
<text x="328.5" y="592.8199999999999" font-size="8.2" text-anchor="end" fill="#111" stroke="#111" stroke-width="0.12">20</text>
<line x1="331.1" y1="577.5" x2="334.5" y2="577.5" stroke="#111" stroke-width="0.9"/>
<text x="328.5" y="580.58" font-size="8.2" text-anchor="end" fill="#111" stroke="#111" stroke-width="0.12">30</text>
<line x1="331.1" y1="565.5" x2="334.5" y2="565.5" stroke="#111" stroke-width="0.9"/>
<text x="328.5" y="568.34" font-size="8.2" text-anchor="end" fill="#111" stroke="#111" stroke-width="0.12">40</text>
<line x1="331.1" y1="553.5" x2="334.5" y2="553.5" stroke="#111" stroke-width="0.9"/>
<text x="328.5" y="556.1" font-size="8.2" text-anchor="end" fill="#111" stroke="#111" stroke-width="0.12">50</text>
<line x1="343.5" y1="614.5" x2="343.5" y2="617.7" stroke="#222" stroke-width="0.85"/>
<line x1="356.5" y1="614.5" x2="356.5" y2="617.7" stroke="#222" stroke-width="0.85"/>
<line x1="335.9" y1="548.5" x2="356.9" y2="548.5" stroke="#111" stroke-width="1.0"/>
<text x="346.6" y="546.9" font-size="7.4" font-weight="bold" text-anchor="middle" fill="#111">*</text>
<text x="341.4" y="629.6" font-size="9.8" fill="#111" stroke="#111" stroke-width="0.32" textLength="18.200000000000045" lengthAdjust="spacingAndGlyphs">p-ERK</text>
<rect x="394.55" y="600.75" width="8.100000000000012" height="13.750000000000023" fill="#e88a9b" stroke="#d27b8c" stroke-width="0.7"/>
<rect x="408.15000000000003" y="588.15" width="8.100000000000012" height="26.350000000000044" fill="#86a9ca" stroke="#7093b6" stroke-width="0.7"/>
<circle cx="398.6" cy="578" r="1.75" fill="#c8103a"/>
<circle cx="398.6" cy="584" r="1.75" fill="#c8103a"/>
<circle cx="398.6" cy="598" r="1.75" fill="#c8103a"/>
<circle cx="396.5" cy="601" r="1.75" fill="#c8103a"/>
<circle cx="400.5" cy="601.5" r="1.75" fill="#c8103a"/>
<circle cx="397" cy="604" r="1.75" fill="#c8103a"/>
<circle cx="400" cy="605" r="1.75" fill="#c8103a"/>
<circle cx="398.6" cy="608" r="1.75" fill="#c8103a"/>
<rect x="410.65" y="565.95" width="3.1" height="3.1" fill="#17558f"/>
<rect x="410.65" y="576.45" width="3.1" height="3.1" fill="#17558f"/>
<rect x="407.95" y="581.95" width="3.1" height="3.1" fill="#17558f"/>
<rect x="412.95" y="582.45" width="3.1" height="3.1" fill="#17558f"/>
<rect x="410.65" y="586.45" width="3.1" height="3.1" fill="#17558f"/>
<rect x="408.45" y="591.45" width="3.1" height="3.1" fill="#17558f"/>
<rect x="412.45" y="595.45" width="3.1" height="3.1" fill="#17558f"/>
<rect x="410.65" y="601.45" width="3.1" height="3.1" fill="#17558f"/>
<rect x="408.95" y="604.45" width="3.1" height="3.1" fill="#17558f"/>
<line x1="398.6" y1="595" x2="398.6" y2="605" stroke="#7a0f25" stroke-width="0.7"/>
<line x1="396.8" y1="595" x2="400.40000000000003" y2="595" stroke="#7a0f25" stroke-width="0.7"/>
<line x1="396.8" y1="605" x2="400.40000000000003" y2="605" stroke="#7a0f25" stroke-width="0.7"/>
<line x1="412.2" y1="583" x2="412.2" y2="592.5" stroke="#0f3560" stroke-width="0.7"/>
<line x1="410.4" y1="583" x2="414.0" y2="583" stroke="#0f3560" stroke-width="0.7"/>
<line x1="410.4" y1="592.5" x2="414.0" y2="592.5" stroke="#0f3560" stroke-width="0.7"/>
<line x1="389.5" y1="550.5" x2="389.5" y2="615.0" stroke="#111" stroke-width="1.0"/>
<line x1="389.0" y1="614.5" x2="419.9" y2="614.5" stroke="#111" stroke-width="1.0"/>
<line x1="386.1" y1="614.5" x2="389.5" y2="614.5" stroke="#111" stroke-width="0.9"/>
<text x="383.5" y="617.3" font-size="8.2" text-anchor="end" fill="#111" stroke="#111" stroke-width="0.12">0</text>
<line x1="386.1" y1="598.5" x2="389.5" y2="598.5" stroke="#111" stroke-width="0.9"/>
<text x="383.5" y="602.0" font-size="8.2" text-anchor="end" fill="#111" stroke="#111" stroke-width="0.12">5</text>
<line x1="386.1" y1="583.5" x2="389.5" y2="583.5" stroke="#111" stroke-width="0.9"/>
<text x="383.5" y="586.6999999999999" font-size="8.2" text-anchor="end" fill="#111" stroke="#111" stroke-width="0.12">10</text>
<line x1="386.1" y1="568.5" x2="389.5" y2="568.5" stroke="#111" stroke-width="0.9"/>
<text x="383.5" y="571.4" font-size="8.2" text-anchor="end" fill="#111" stroke="#111" stroke-width="0.12">15</text>
<line x1="386.1" y1="553.5" x2="389.5" y2="553.5" stroke="#111" stroke-width="0.9"/>
<text x="383.5" y="556.1" font-size="8.2" text-anchor="end" fill="#111" stroke="#111" stroke-width="0.12">20</text>
<line x1="398.5" y1="614.5" x2="398.5" y2="617.7" stroke="#222" stroke-width="0.85"/>
<line x1="411.5" y1="614.5" x2="411.5" y2="617.7" stroke="#222" stroke-width="0.85"/>
<line x1="391.7" y1="548.5" x2="413" y2="548.5" stroke="#111" stroke-width="1.0"/>
<text x="402.6" y="546.9" font-size="7.4" font-weight="bold" text-anchor="middle" fill="#111">*</text>
<text x="396.3" y="629.6" font-size="9.8" fill="#111" stroke="#111" stroke-width="0.32" textLength="17.80000000000001" lengthAdjust="spacingAndGlyphs">p-P38</text>
<rect x="450.35" y="602.25" width="8.100000000000012" height="12.250000000000023" fill="#e88a9b" stroke="#d27b8c" stroke-width="0.7"/>
<rect x="463.75" y="585.0500000000001" width="7.900000000000023" height="29.449999999999953" fill="#86a9ca" stroke="#7093b6" stroke-width="0.7"/>
<circle cx="454.4" cy="594" r="1.75" fill="#c8103a"/>
<circle cx="452" cy="597" r="1.75" fill="#c8103a"/>
<circle cx="456.5" cy="597.5" r="1.75" fill="#c8103a"/>
<circle cx="454.4" cy="600" r="1.75" fill="#c8103a"/>
<circle cx="452" cy="602" r="1.75" fill="#c8103a"/>
<circle cx="456.5" cy="603" r="1.75" fill="#c8103a"/>
<circle cx="454.4" cy="607" r="1.75" fill="#c8103a"/>
<rect x="466.15" y="560.45" width="3.1" height="3.1" fill="#17558f"/>
<rect x="466.15" y="568.45" width="3.1" height="3.1" fill="#17558f"/>
<rect x="466.15" y="574.45" width="3.1" height="3.1" fill="#17558f"/>
<rect x="463.45" y="581.45" width="3.1" height="3.1" fill="#17558f"/>
<rect x="468.45" y="582.45" width="3.1" height="3.1" fill="#17558f"/>
<rect x="466.15" y="586.45" width="3.1" height="3.1" fill="#17558f"/>
<rect x="463.95" y="588.45" width="3.1" height="3.1" fill="#17558f"/>
<rect x="467.95" y="589.45" width="3.1" height="3.1" fill="#17558f"/>
<rect x="466.15" y="595.45" width="3.1" height="3.1" fill="#17558f"/>
<line x1="454.4" y1="598" x2="454.4" y2="604" stroke="#7a0f25" stroke-width="0.7"/>
<line x1="452.59999999999997" y1="598" x2="456.2" y2="598" stroke="#7a0f25" stroke-width="0.7"/>
<line x1="452.59999999999997" y1="604" x2="456.2" y2="604" stroke="#7a0f25" stroke-width="0.7"/>
<line x1="467.7" y1="578" x2="467.7" y2="591" stroke="#0f3560" stroke-width="0.7"/>
<line x1="465.9" y1="578" x2="469.5" y2="578" stroke="#0f3560" stroke-width="0.7"/>
<line x1="465.9" y1="591" x2="469.5" y2="591" stroke="#0f3560" stroke-width="0.7"/>
<line x1="445.5" y1="550.5" x2="445.5" y2="615.0" stroke="#111" stroke-width="1.0"/>
<line x1="445.0" y1="614.5" x2="476.1" y2="614.5" stroke="#111" stroke-width="1.0"/>
<line x1="442.1" y1="614.5" x2="445.5" y2="614.5" stroke="#111" stroke-width="0.9"/>
<text x="439.5" y="617.3" font-size="8.2" text-anchor="end" fill="#111" stroke="#111" stroke-width="0.12">0</text>
<line x1="442.1" y1="593.5" x2="445.5" y2="593.5" stroke="#111" stroke-width="0.9"/>
<text x="439.5" y="596.9" font-size="8.2" text-anchor="end" fill="#111" stroke="#111" stroke-width="0.12">20</text>
<line x1="442.1" y1="573.5" x2="445.5" y2="573.5" stroke="#111" stroke-width="0.9"/>
<text x="439.5" y="576.5" font-size="8.2" text-anchor="end" fill="#111" stroke="#111" stroke-width="0.12">40</text>
<line x1="442.1" y1="553.5" x2="445.5" y2="553.5" stroke="#111" stroke-width="0.9"/>
<text x="439.5" y="556.1" font-size="8.2" text-anchor="end" fill="#111" stroke="#111" stroke-width="0.12">60</text>
<line x1="454.5" y1="614.5" x2="454.5" y2="617.7" stroke="#222" stroke-width="0.85"/>
<line x1="467.5" y1="614.5" x2="467.5" y2="617.7" stroke="#222" stroke-width="0.85"/>
<line x1="446.2" y1="548.5" x2="467.8" y2="548.5" stroke="#111" stroke-width="1.0"/>
<text x="456.7" y="546.9" font-size="7.4" font-weight="bold" text-anchor="middle" fill="#111">***</text>
<text x="451.4" y="629.6" font-size="9.8" fill="#111" stroke="#111" stroke-width="0.32" textLength="20.0" lengthAdjust="spacingAndGlyphs">p-JNK</text>
<g opacity="0.9"><circle cx="49.28" cy="70.08" r="0.5" fill="#c4cdf7"/><circle cx="49.22" cy="73.56" r="0.5" fill="#c4cdf7"/><circle cx="49.77" cy="67.50" r="0.5" fill="#9fb2f4"/><circle cx="51.87" cy="72.24" r="0.5" fill="#9fb2f4"/><circle cx="47.92" cy="70.26" r="0.5" fill="#b9a9ef"/><circle cx="45.82" cy="67.64" r="0.5" fill="#8fa6f2"/><circle cx="44.83" cy="81.03" r="0.5" fill="#c4cdf7"/><circle cx="48.52" cy="74.44" r="0.5" fill="#c4cdf7"/><circle cx="52.78" cy="74.85" r="0.5" fill="#8fa6f2"/><circle cx="38.62" cy="69.50" r="0.5" fill="#c4cdf7"/><circle cx="42.32" cy="80.66" r="0.5" fill="#9fb2f4"/><circle cx="40.65" cy="77.54" r="0.5" fill="#c4cdf7"/><circle cx="44.15" cy="80.56" r="0.5" fill="#b9a9ef"/><circle cx="40.07" cy="75.40" r="0.5" fill="#c4cdf7"/><circle cx="50.92" cy="74.08" r="0.5" fill="#9fb2f4"/><circle cx="43.60" cy="77.90" r="0.5" fill="#c4cdf7"/><circle cx="42.29" cy="68.77" r="0.5" fill="#8fa6f2"/><circle cx="35.73" cy="76.62" r="0.5" fill="#9fb2f4"/><circle cx="49.57" cy="74.34" r="0.5" fill="#c4cdf7"/><circle cx="41.41" cy="77.72" r="0.5" fill="#c4cdf7"/><circle cx="34.87" cy="77.25" r="0.5" fill="#c4cdf7"/><circle cx="46.94" cy="68.70" r="0.5" fill="#b9a9ef"/><circle cx="44.79" cy="79.76" r="0.5" fill="#b9a9ef"/><circle cx="42.09" cy="71.50" r="0.5" fill="#8fa6f2"/><circle cx="43.18" cy="70.31" r="0.5" fill="#9fb2f4"/><circle cx="41.67" cy="79.71" r="0.5" fill="#b9a9ef"/><circle cx="44.37" cy="74.98" r="0.5" fill="#c4cdf7"/><circle cx="52.99" cy="73.70" r="0.5" fill="#8fa6f2"/><circle cx="45.40" cy="69.20" r="0.5" fill="#c4cdf7"/><circle cx="43.70" cy="71.71" r="0.5" fill="#8fa6f2"/><circle cx="49.73" cy="71.30" r="0.5" fill="#9fb2f4"/><circle cx="50.09" cy="76.17" r="0.5" fill="#b9a9ef"/><circle cx="51.22" cy="78.78" r="0.5" fill="#8fa6f2"/><circle cx="43.06" cy="78.07" r="0.5" fill="#8fa6f2"/><circle cx="38.99" cy="67.75" r="0.5" fill="#b9a9ef"/><circle cx="40.89" cy="67.11" r="0.5" fill="#b9a9ef"/><circle cx="47.13" cy="76.37" r="0.5" fill="#8fa6f2"/><circle cx="43.09" cy="71.15" r="0.5" fill="#c4cdf7"/><circle cx="36.28" cy="70.99" r="0.5" fill="#8fa6f2"/><circle cx="42.42" cy="69.01" r="0.5" fill="#9fb2f4"/><circle cx="39.51" cy="67.89" r="0.5" fill="#8fa6f2"/><circle cx="36.01" cy="63.70" r="0.5" fill="#9fb2f4"/><circle cx="37.99" cy="63.27" r="0.5" fill="#c4cdf7"/><circle cx="38.33" cy="68.43" r="0.5" fill="#8fa6f2"/><circle cx="37.77" cy="65.56" r="0.5" fill="#8fa6f2"/><circle cx="36.68" cy="69.45" r="0.5" fill="#c4cdf7"/><circle cx="37.04" cy="69.07" r="0.5" fill="#b9a9ef"/><circle cx="37.86" cy="63.89" r="0.5" fill="#9fb2f4"/><circle cx="35.56" cy="63.39" r="0.5" fill="#8fa6f2"/><circle cx="39.28" cy="67.88" r="0.5" fill="#8fa6f2"/><circle cx="100.24" cy="74.71" r="0.5" fill="#8fa6f2"/><circle cx="115.15" cy="73.58" r="0.5" fill="#9fb2f4"/><circle cx="108.32" cy="80.54" r="0.5" fill="#c4cdf7"/><circle cx="100.71" cy="69.75" r="0.5" fill="#c4cdf7"/><circle cx="106.90" cy="74.79" r="0.5" fill="#c4cdf7"/><circle cx="109.06" cy="68.41" r="0.5" fill="#b9a9ef"/><circle cx="114.10" cy="74.37" r="0.5" fill="#9fb2f4"/><circle cx="109.77" cy="67.02" r="0.5" fill="#9fb2f4"/><circle cx="114.04" cy="73.56" r="0.5" fill="#c4cdf7"/><circle cx="110.71" cy="80.74" r="0.5" fill="#c4cdf7"/><circle cx="111.02" cy="75.23" r="0.5" fill="#b9a9ef"/><circle cx="97.99" cy="69.47" r="0.5" fill="#c4cdf7"/><circle cx="112.14" cy="79.68" r="0.5" fill="#c4cdf7"/><circle cx="106.16" cy="72.17" r="0.5" fill="#8fa6f2"/><circle cx="106.75" cy="72.52" r="0.5" fill="#b9a9ef"/><circle cx="114.89" cy="76.91" r="0.5" fill="#9fb2f4"/><circle cx="109.77" cy="68.61" r="0.5" fill="#8fa6f2"/><circle cx="107.52" cy="77.42" r="0.5" fill="#b9a9ef"/><circle cx="100.88" cy="67.99" r="0.5" fill="#c4cdf7"/><circle cx="104.03" cy="68.41" r="0.5" fill="#8fa6f2"/><circle cx="104.40" cy="72.64" r="0.5" fill="#9fb2f4"/><circle cx="95.97" cy="75.83" r="0.5" fill="#9fb2f4"/><circle cx="103.31" cy="75.38" r="0.5" fill="#8fa6f2"/><circle cx="106.12" cy="81.98" r="0.5" fill="#8fa6f2"/><circle cx="106.78" cy="81.18" r="0.5" fill="#c4cdf7"/><circle cx="101.42" cy="70.21" r="0.5" fill="#9fb2f4"/><circle cx="102.92" cy="68.21" r="0.5" fill="#c4cdf7"/><circle cx="103.29" cy="79.92" r="0.5" fill="#c4cdf7"/><circle cx="109.17" cy="75.53" r="0.5" fill="#9fb2f4"/><circle cx="108.64" cy="81.05" r="0.5" fill="#8fa6f2"/><circle cx="104.49" cy="77.52" r="0.5" fill="#b9a9ef"/><circle cx="115.60" cy="73.00" r="0.5" fill="#8fa6f2"/><circle cx="106.46" cy="74.77" r="0.5" fill="#9fb2f4"/><circle cx="101.93" cy="72.02" r="0.5" fill="#b9a9ef"/><circle cx="96.32" cy="76.04" r="0.5" fill="#c4cdf7"/><circle cx="102.76" cy="80.68" r="0.5" fill="#8fa6f2"/><circle cx="96.33" cy="76.82" r="0.5" fill="#8fa6f2"/><circle cx="100.52" cy="73.30" r="0.5" fill="#8fa6f2"/><circle cx="98.90" cy="68.96" r="0.5" fill="#8fa6f2"/><circle cx="113.56" cy="70.23" r="0.5" fill="#c4cdf7"/><circle cx="97.89" cy="74.00" r="0.5" fill="#8fa6f2"/><circle cx="100.25" cy="69.00" r="0.5" fill="#c4cdf7"/><circle cx="109.29" cy="67.55" r="0.5" fill="#8fa6f2"/><circle cx="115.88" cy="76.80" r="0.5" fill="#b9a9ef"/><circle cx="104.65" cy="79.69" r="0.5" fill="#b9a9ef"/><circle cx="98.92" cy="62.83" r="0.5" fill="#c4cdf7"/><circle cx="100.37" cy="62.72" r="0.5" fill="#9fb2f4"/><circle cx="99.91" cy="69.34" r="0.5" fill="#9fb2f4"/><circle cx="98.83" cy="66.29" r="0.5" fill="#8fa6f2"/><circle cx="102.18" cy="68.61" r="0.5" fill="#8fa6f2"/><circle cx="102.47" cy="68.45" r="0.5" fill="#8fa6f2"/><circle cx="98.66" cy="64.48" r="0.5" fill="#8fa6f2"/><circle cx="98.02" cy="66.85" r="0.5" fill="#c4cdf7"/><circle cx="100.54" cy="63.42" r="0.5" fill="#c4cdf7"/><circle cx="99.18" cy="69.56" r="0.5" fill="#8fa6f2"/><circle cx="354.21" cy="72.90" r="0.5" fill="#9fb2f4"/><circle cx="358.13" cy="73.31" r="0.5" fill="#b9a9ef"/><circle cx="354.68" cy="74.81" r="0.5" fill="#9fb2f4"/><circle cx="349.69" cy="74.42" r="0.5" fill="#c4cdf7"/><circle cx="352.79" cy="70.89" r="0.5" fill="#9fb2f4"/><circle cx="356.16" cy="68.90" r="0.5" fill="#b9a9ef"/><circle cx="359.49" cy="73.19" r="0.5" fill="#b9a9ef"/><circle cx="354.12" cy="69.34" r="0.5" fill="#b9a9ef"/><circle cx="346.77" cy="66.59" r="0.5" fill="#b9a9ef"/><circle cx="358.70" cy="67.47" r="0.5" fill="#b9a9ef"/><circle cx="352.71" cy="72.13" r="0.5" fill="#b9a9ef"/><circle cx="349.90" cy="64.26" r="0.5" fill="#c4cdf7"/><circle cx="345.99" cy="65.75" r="0.5" fill="#9fb2f4"/><circle cx="348.97" cy="73.81" r="0.5" fill="#9fb2f4"/><circle cx="353.73" cy="72.49" r="0.5" fill="#9fb2f4"/><circle cx="348.58" cy="73.82" r="0.5" fill="#c4cdf7"/><circle cx="355.54" cy="66.22" r="0.5" fill="#c4cdf7"/><circle cx="355.68" cy="64.68" r="0.5" fill="#9fb2f4"/><circle cx="360.09" cy="68.29" r="0.5" fill="#c4cdf7"/><circle cx="349.59" cy="70.94" r="0.5" fill="#9fb2f4"/><circle cx="351.15" cy="72.49" r="0.5" fill="#b9a9ef"/><circle cx="345.14" cy="66.95" r="0.5" fill="#c4cdf7"/><circle cx="349.20" cy="68.26" r="0.5" fill="#8fa6f2"/><circle cx="356.96" cy="65.30" r="0.5" fill="#8fa6f2"/><circle cx="349.13" cy="71.33" r="0.5" fill="#b9a9ef"/><circle cx="411.87" cy="74.51" r="0.5" fill="#c4cdf7"/><circle cx="398.91" cy="71.21" r="0.5" fill="#8fa6f2"/><circle cx="405.78" cy="65.77" r="0.5" fill="#c4cdf7"/><circle cx="414.21" cy="70.55" r="0.5" fill="#9fb2f4"/><circle cx="399.86" cy="70.75" r="0.5" fill="#8fa6f2"/><circle cx="409.26" cy="71.54" r="0.5" fill="#9fb2f4"/><circle cx="412.89" cy="67.70" r="0.5" fill="#9fb2f4"/><circle cx="403.24" cy="68.74" r="0.5" fill="#8fa6f2"/><circle cx="404.90" cy="64.31" r="0.5" fill="#b9a9ef"/><circle cx="410.01" cy="74.15" r="0.5" fill="#9fb2f4"/><circle cx="415.03" cy="71.24" r="0.5" fill="#b9a9ef"/><circle cx="405.73" cy="74.66" r="0.5" fill="#b9a9ef"/><circle cx="406.29" cy="72.02" r="0.5" fill="#9fb2f4"/><circle cx="408.67" cy="66.43" r="0.5" fill="#c4cdf7"/><circle cx="402.09" cy="71.25" r="0.5" fill="#9fb2f4"/><circle cx="406.00" cy="72.50" r="0.5" fill="#b9a9ef"/><circle cx="398.34" cy="72.28" r="0.5" fill="#8fa6f2"/><circle cx="410.38" cy="68.32" r="0.5" fill="#b9a9ef"/><circle cx="398.76" cy="65.94" r="0.5" fill="#9fb2f4"/><circle cx="399.77" cy="65.37" r="0.5" fill="#8fa6f2"/><circle cx="407.15" cy="72.40" r="0.5" fill="#8fa6f2"/><circle cx="403.49" cy="70.38" r="0.5" fill="#8fa6f2"/><circle cx="397.08" cy="68.92" r="0.5" fill="#c4cdf7"/><circle cx="397.92" cy="69.18" r="0.5" fill="#9fb2f4"/><circle cx="413.85" cy="72.38" r="0.5" fill="#c4cdf7"/><circle cx="404.94" cy="74.64" r="0.5" fill="#9fb2f4"/><circle cx="406.33" cy="69.59" r="0.5" fill="#c4cdf7"/><circle cx="409.60" cy="69.32" r="0.5" fill="#b9a9ef"/><circle cx="396.37" cy="70.53" r="0.5" fill="#8fa6f2"/><circle cx="407.79" cy="68.05" r="0.5" fill="#8fa6f2"/><circle cx="406.05" cy="67.61" r="0.5" fill="#8fa6f2"/><circle cx="404.43" cy="69.80" r="0.5" fill="#c4cdf7"/><circle cx="409.13" cy="69.89" r="0.5" fill="#c4cdf7"/><circle cx="405.93" cy="71.88" r="0.5" fill="#c4cdf7"/><circle cx="402.47" cy="72.23" r="0.5" fill="#c4cdf7"/><circle cx="409.89" cy="66.72" r="0.5" fill="#c4cdf7"/><circle cx="399.16" cy="74.59" r="0.5" fill="#9fb2f4"/><circle cx="408.48" cy="76.51" r="0.5" fill="#b9a9ef"/><circle cx="398.24" cy="73.06" r="0.5" fill="#8fa6f2"/><circle cx="415.65" cy="69.96" r="0.5" fill="#9fb2f4"/><circle cx="412.12" cy="74.20" r="0.5" fill="#c4cdf7"/><circle cx="403.42" cy="76.47" r="0.5" fill="#b9a9ef"/><circle cx="408.13" cy="65.02" r="0.5" fill="#9fb2f4"/><circle cx="405.56" cy="73.14" r="0.5" fill="#9fb2f4"/><circle cx="408.58" cy="72.82" r="0.5" fill="#b9a9ef"/><circle cx="408.33" cy="75.94" r="0.5" fill="#b9a9ef"/><circle cx="408.36" cy="75.76" r="0.5" fill="#c4cdf7"/><circle cx="405.99" cy="63.28" r="0.5" fill="#b9a9ef"/><circle cx="412.36" cy="65.64" r="0.5" fill="#c4cdf7"/><circle cx="405.58" cy="69.15" r="0.5" fill="#8fa6f2"/><circle cx="405.55" cy="71.11" r="0.5" fill="#8fa6f2"/><circle cx="413.16" cy="66.92" r="0.5" fill="#c4cdf7"/><circle cx="404.61" cy="75.91" r="0.5" fill="#9fb2f4"/><circle cx="410.28" cy="66.49" r="0.5" fill="#b9a9ef"/><circle cx="406.71" cy="63.46" r="0.5" fill="#b9a9ef"/><circle cx="402.73" cy="63.45" r="0.5" fill="#b9a9ef"/><circle cx="410.01" cy="67.81" r="0.5" fill="#9fb2f4"/><circle cx="399.15" cy="72.46" r="0.5" fill="#c4cdf7"/><circle cx="406.94" cy="69.50" r="0.5" fill="#c4cdf7"/><circle cx="408.79" cy="64.79" r="0.5" fill="#8fa6f2"/><circle cx="42.77" cy="186.72" r="0.5" fill="#9fb2f4"/><circle cx="36.74" cy="193.65" r="0.5" fill="#8fa6f2"/><circle cx="48.99" cy="200.37" r="0.5" fill="#b9a9ef"/><circle cx="35.90" cy="191.81" r="0.5" fill="#9fb2f4"/><circle cx="40.78" cy="193.92" r="0.5" fill="#9fb2f4"/><circle cx="54.84" cy="186.23" r="0.5" fill="#b9a9ef"/><circle cx="50.14" cy="194.49" r="0.5" fill="#9fb2f4"/><circle cx="48.85" cy="191.14" r="0.5" fill="#b9a9ef"/><circle cx="41.95" cy="186.60" r="0.5" fill="#9fb2f4"/><circle cx="48.70" cy="194.08" r="0.5" fill="#b9a9ef"/><circle cx="37.47" cy="194.28" r="0.5" fill="#b9a9ef"/><circle cx="43.94" cy="193.86" r="0.5" fill="#9fb2f4"/><circle cx="48.54" cy="195.14" r="0.5" fill="#c4cdf7"/><circle cx="51.33" cy="191.70" r="0.5" fill="#8fa6f2"/><circle cx="46.17" cy="200.62" r="0.5" fill="#8fa6f2"/><circle cx="42.19" cy="198.30" r="0.5" fill="#b9a9ef"/><circle cx="36.96" cy="189.40" r="0.5" fill="#c4cdf7"/><circle cx="56.00" cy="197.13" r="0.5" fill="#8fa6f2"/><circle cx="49.62" cy="185.32" r="0.5" fill="#c4cdf7"/><circle cx="38.96" cy="190.16" r="0.5" fill="#c4cdf7"/><circle cx="45.12" cy="201.32" r="0.5" fill="#9fb2f4"/><circle cx="53.35" cy="194.31" r="0.5" fill="#8fa6f2"/><circle cx="43.16" cy="190.30" r="0.5" fill="#c4cdf7"/><circle cx="48.92" cy="192.21" r="0.5" fill="#9fb2f4"/><circle cx="57.67" cy="192.53" r="0.5" fill="#9fb2f4"/><circle cx="36.46" cy="196.63" r="0.5" fill="#c4cdf7"/><circle cx="41.83" cy="190.94" r="0.5" fill="#8fa6f2"/><circle cx="35.54" cy="192.31" r="0.5" fill="#b9a9ef"/><circle cx="49.66" cy="192.89" r="0.5" fill="#b9a9ef"/><circle cx="53.44" cy="186.33" r="0.5" fill="#b9a9ef"/><circle cx="44.55" cy="200.50" r="0.5" fill="#c4cdf7"/><circle cx="36.93" cy="192.09" r="0.5" fill="#8fa6f2"/><circle cx="56.20" cy="198.75" r="0.5" fill="#8fa6f2"/><circle cx="51.39" cy="190.85" r="0.5" fill="#b9a9ef"/><circle cx="38.62" cy="187.17" r="0.5" fill="#b9a9ef"/><circle cx="54.95" cy="187.28" r="0.5" fill="#8fa6f2"/><circle cx="43.86" cy="194.19" r="0.5" fill="#b9a9ef"/><circle cx="51.57" cy="193.28" r="0.5" fill="#9fb2f4"/><circle cx="45.96" cy="199.68" r="0.5" fill="#c4cdf7"/><circle cx="44.55" cy="191.09" r="0.5" fill="#c4cdf7"/><circle cx="101.03" cy="196.69" r="0.5" fill="#9fb2f4"/><circle cx="101.28" cy="198.60" r="0.5" fill="#b9a9ef"/><circle cx="107.62" cy="184.55" r="0.5" fill="#c4cdf7"/><circle cx="108.88" cy="192.91" r="0.5" fill="#b9a9ef"/><circle cx="119.54" cy="191.25" r="0.5" fill="#c4cdf7"/><circle cx="104.40" cy="191.34" r="0.5" fill="#c4cdf7"/><circle cx="115.42" cy="195.93" r="0.5" fill="#9fb2f4"/><circle cx="112.88" cy="190.79" r="0.5" fill="#9fb2f4"/><circle cx="106.12" cy="196.44" r="0.5" fill="#c4cdf7"/><circle cx="119.68" cy="193.30" r="0.5" fill="#b9a9ef"/><circle cx="111.96" cy="186.56" r="0.5" fill="#9fb2f4"/><circle cx="110.95" cy="184.67" r="0.5" fill="#b9a9ef"/><circle cx="108.95" cy="194.52" r="0.5" fill="#c4cdf7"/><circle cx="104.86" cy="190.42" r="0.5" fill="#c4cdf7"/><circle cx="101.24" cy="197.76" r="0.5" fill="#9fb2f4"/><circle cx="110.76" cy="189.65" r="0.5" fill="#8fa6f2"/><circle cx="110.09" cy="187.56" r="0.5" fill="#b9a9ef"/><circle cx="106.54" cy="189.12" r="0.5" fill="#9fb2f4"/><circle cx="117.39" cy="199.42" r="0.5" fill="#b9a9ef"/><circle cx="106.26" cy="200.34" r="0.5" fill="#8fa6f2"/><circle cx="106.24" cy="188.80" r="0.5" fill="#c4cdf7"/><circle cx="104.11" cy="189.37" r="0.5" fill="#c4cdf7"/><circle cx="102.21" cy="191.13" r="0.5" fill="#b9a9ef"/><circle cx="117.11" cy="190.85" r="0.5" fill="#b9a9ef"/><circle cx="111.66" cy="200.29" r="0.5" fill="#b9a9ef"/><circle cx="107.84" cy="192.03" r="0.5" fill="#c4cdf7"/><circle cx="113.92" cy="197.76" r="0.5" fill="#8fa6f2"/><circle cx="109.72" cy="186.67" r="0.5" fill="#9fb2f4"/><circle cx="106.18" cy="195.85" r="0.5" fill="#9fb2f4"/><circle cx="115.85" cy="190.33" r="0.5" fill="#8fa6f2"/><circle cx="103.04" cy="199.75" r="0.5" fill="#9fb2f4"/><circle cx="117.40" cy="198.70" r="0.5" fill="#b9a9ef"/><circle cx="108.60" cy="185.50" r="0.5" fill="#b9a9ef"/><circle cx="109.93" cy="192.52" r="0.5" fill="#b9a9ef"/><circle cx="107.15" cy="185.95" r="0.5" fill="#c4cdf7"/><circle cx="113.55" cy="196.95" r="0.5" fill="#9fb2f4"/><circle cx="115.17" cy="192.48" r="0.5" fill="#c4cdf7"/><circle cx="117.60" cy="192.20" r="0.5" fill="#9fb2f4"/><circle cx="102.74" cy="192.03" r="0.5" fill="#9fb2f4"/><circle cx="112.42" cy="200.32" r="0.5" fill="#8fa6f2"/><circle cx="339.78" cy="187.47" r="0.5" fill="#b9a9ef"/><circle cx="338.12" cy="193.53" r="0.5" fill="#8fa6f2"/><circle cx="340.02" cy="197.97" r="0.5" fill="#9fb2f4"/><circle cx="339.00" cy="198.73" r="0.5" fill="#9fb2f4"/><circle cx="341.37" cy="183.39" r="0.5" fill="#c4cdf7"/><circle cx="342.71" cy="188.45" r="0.5" fill="#b9a9ef"/><circle cx="338.43" cy="182.22" r="0.5" fill="#9fb2f4"/><circle cx="341.65" cy="187.67" r="0.5" fill="#9fb2f4"/><circle cx="338.35" cy="195.86" r="0.5" fill="#9fb2f4"/><circle cx="341.64" cy="198.23" r="0.5" fill="#c4cdf7"/><circle cx="338.69" cy="196.19" r="0.5" fill="#b9a9ef"/><circle cx="339.47" cy="197.92" r="0.5" fill="#c4cdf7"/><circle cx="337.83" cy="184.73" r="0.5" fill="#9fb2f4"/><circle cx="341.59" cy="183.95" r="0.5" fill="#b9a9ef"/><circle cx="338.98" cy="197.85" r="0.5" fill="#b9a9ef"/><circle cx="340.24" cy="180.35" r="0.5" fill="#9fb2f4"/><circle cx="340.44" cy="190.75" r="0.5" fill="#b9a9ef"/><circle cx="339.52" cy="187.96" r="0.5" fill="#9fb2f4"/><circle cx="341.21" cy="182.91" r="0.5" fill="#9fb2f4"/><circle cx="337.33" cy="191.10" r="0.5" fill="#b9a9ef"/><circle cx="402.43" cy="188.58" r="0.5" fill="#9fb2f4"/><circle cx="400.24" cy="196.27" r="0.5" fill="#8fa6f2"/><circle cx="402.92" cy="183.20" r="0.5" fill="#c4cdf7"/><circle cx="400.97" cy="185.00" r="0.5" fill="#8fa6f2"/><circle cx="402.62" cy="187.63" r="0.5" fill="#8fa6f2"/><circle cx="403.96" cy="185.25" r="0.5" fill="#b9a9ef"/><circle cx="403.12" cy="193.24" r="0.5" fill="#b9a9ef"/><circle cx="401.74" cy="197.20" r="0.5" fill="#b9a9ef"/><circle cx="404.82" cy="192.27" r="0.5" fill="#9fb2f4"/><circle cx="402.50" cy="184.71" r="0.5" fill="#b9a9ef"/><circle cx="404.65" cy="186.06" r="0.5" fill="#8fa6f2"/><circle cx="403.63" cy="184.80" r="0.5" fill="#c4cdf7"/><circle cx="401.62" cy="181.30" r="0.5" fill="#8fa6f2"/><circle cx="404.06" cy="183.13" r="0.5" fill="#b9a9ef"/><circle cx="402.64" cy="181.44" r="0.5" fill="#9fb2f4"/><circle cx="49.14" cy="322.84" r="0.5" fill="#c4cdf7"/><circle cx="49.13" cy="326.97" r="0.5" fill="#b9a9ef"/><circle cx="44.32" cy="322.17" r="0.5" fill="#b9a9ef"/><circle cx="42.69" cy="319.25" r="0.5" fill="#9fb2f4"/><circle cx="50.70" cy="327.47" r="0.5" fill="#9fb2f4"/><circle cx="51.72" cy="320.55" r="0.5" fill="#c4cdf7"/><circle cx="52.77" cy="323.62" r="0.5" fill="#b9a9ef"/><circle cx="52.22" cy="326.64" r="0.5" fill="#9fb2f4"/><circle cx="49.35" cy="321.17" r="0.5" fill="#b9a9ef"/><circle cx="50.34" cy="323.96" r="0.5" fill="#c4cdf7"/><circle cx="52.79" cy="320.69" r="0.5" fill="#9fb2f4"/><circle cx="53.74" cy="319.41" r="0.5" fill="#b9a9ef"/><circle cx="50.23" cy="315.42" r="0.5" fill="#9fb2f4"/><circle cx="48.21" cy="326.85" r="0.5" fill="#c4cdf7"/><circle cx="53.33" cy="317.99" r="0.5" fill="#9fb2f4"/><circle cx="49.46" cy="328.73" r="0.5" fill="#c4cdf7"/><circle cx="48.56" cy="322.93" r="0.5" fill="#b9a9ef"/><circle cx="55.01" cy="318.78" r="0.5" fill="#9fb2f4"/><circle cx="48.38" cy="327.92" r="0.5" fill="#b9a9ef"/><circle cx="45.43" cy="316.41" r="0.5" fill="#9fb2f4"/><circle cx="49.37" cy="321.82" r="0.5" fill="#b9a9ef"/><circle cx="49.05" cy="317.67" r="0.5" fill="#b9a9ef"/><circle cx="48.55" cy="320.37" r="0.5" fill="#c4cdf7"/><circle cx="48.57" cy="317.98" r="0.5" fill="#8fa6f2"/><circle cx="51.39" cy="315.59" r="0.5" fill="#b9a9ef"/><circle cx="44.84" cy="318.62" r="0.5" fill="#8fa6f2"/><circle cx="55.95" cy="320.41" r="0.5" fill="#9fb2f4"/><circle cx="42.62" cy="323.16" r="0.5" fill="#b9a9ef"/><circle cx="52.20" cy="316.78" r="0.5" fill="#c4cdf7"/><circle cx="55.98" cy="316.90" r="0.5" fill="#c4cdf7"/><circle cx="44.29" cy="317.16" r="0.5" fill="#b9a9ef"/><circle cx="55.72" cy="318.49" r="0.5" fill="#b9a9ef"/><circle cx="43.85" cy="323.81" r="0.5" fill="#b9a9ef"/><circle cx="53.37" cy="320.43" r="0.5" fill="#c4cdf7"/><circle cx="51.86" cy="320.90" r="0.5" fill="#9fb2f4"/><circle cx="42.96" cy="322.17" r="0.5" fill="#8fa6f2"/><circle cx="45.29" cy="324.86" r="0.5" fill="#8fa6f2"/><circle cx="48.57" cy="327.67" r="0.5" fill="#c4cdf7"/><circle cx="46.28" cy="317.46" r="0.5" fill="#9fb2f4"/><circle cx="43.28" cy="321.71" r="0.5" fill="#9fb2f4"/><circle cx="46.04" cy="327.84" r="0.5" fill="#b9a9ef"/><circle cx="54.48" cy="315.97" r="0.5" fill="#c4cdf7"/><circle cx="49.02" cy="315.85" r="0.5" fill="#b9a9ef"/><circle cx="46.08" cy="322.43" r="0.5" fill="#b9a9ef"/><circle cx="49.11" cy="319.63" r="0.5" fill="#b9a9ef"/><circle cx="109.59" cy="322.52" r="0.5" fill="#8fa6f2"/><circle cx="108.00" cy="316.38" r="0.5" fill="#c4cdf7"/><circle cx="113.05" cy="321.62" r="0.5" fill="#9fb2f4"/><circle cx="112.58" cy="314.32" r="0.5" fill="#c4cdf7"/><circle cx="107.88" cy="317.43" r="0.5" fill="#b9a9ef"/><circle cx="103.19" cy="322.99" r="0.5" fill="#8fa6f2"/><circle cx="112.90" cy="324.77" r="0.5" fill="#9fb2f4"/><circle cx="116.64" cy="320.14" r="0.5" fill="#9fb2f4"/><circle cx="117.83" cy="318.78" r="0.5" fill="#c4cdf7"/><circle cx="103.80" cy="318.77" r="0.5" fill="#b9a9ef"/><circle cx="110.63" cy="326.11" r="0.5" fill="#b9a9ef"/><circle cx="110.88" cy="320.12" r="0.5" fill="#9fb2f4"/><circle cx="108.41" cy="318.70" r="0.5" fill="#c4cdf7"/><circle cx="109.63" cy="318.15" r="0.5" fill="#9fb2f4"/><circle cx="112.25" cy="313.32" r="0.5" fill="#b9a9ef"/><circle cx="107.70" cy="317.81" r="0.5" fill="#c4cdf7"/><circle cx="112.78" cy="313.82" r="0.5" fill="#b9a9ef"/><circle cx="107.36" cy="317.94" r="0.5" fill="#b9a9ef"/><circle cx="108.88" cy="320.30" r="0.5" fill="#b9a9ef"/><circle cx="112.81" cy="312.70" r="0.5" fill="#b9a9ef"/><circle cx="114.35" cy="313.64" r="0.5" fill="#b9a9ef"/><circle cx="104.85" cy="323.13" r="0.5" fill="#9fb2f4"/><circle cx="108.94" cy="319.97" r="0.5" fill="#9fb2f4"/><circle cx="110.22" cy="317.89" r="0.5" fill="#8fa6f2"/><circle cx="106.51" cy="319.62" r="0.5" fill="#c4cdf7"/><circle cx="109.44" cy="320.78" r="0.5" fill="#b9a9ef"/><circle cx="105.03" cy="323.98" r="0.5" fill="#9fb2f4"/><circle cx="114.82" cy="314.87" r="0.5" fill="#9fb2f4"/><circle cx="110.02" cy="315.96" r="0.5" fill="#9fb2f4"/><circle cx="110.06" cy="312.38" r="0.5" fill="#8fa6f2"/><circle cx="116.11" cy="322.70" r="0.5" fill="#8fa6f2"/><circle cx="112.23" cy="315.67" r="0.5" fill="#c4cdf7"/><circle cx="109.84" cy="317.66" r="0.5" fill="#c4cdf7"/><circle cx="106.66" cy="325.97" r="0.5" fill="#8fa6f2"/><circle cx="107.28" cy="325.79" r="0.5" fill="#c4cdf7"/></g>
<g filter="url(#bl)"><path d="M45.5 78.5 L52 68.5" fill="none" stroke="#b4c2f7" stroke-width="2.2" stroke-linecap="round" stroke-linejoin="round" opacity="0.55"/><ellipse cx="41.0" cy="80.6" rx="7.2" ry="5.2" transform="rotate(-30 41.0 80.6)" fill="#b4c2f7" opacity="0.8"/><ellipse cx="40.3" cy="81.7" rx="6.0" ry="4.3" transform="rotate(-30 40.3 81.7)" fill="#3552ee" opacity="1"/><ellipse cx="39.6" cy="82.3" rx="4.6" ry="3.5" transform="rotate(-30 39.6 82.3)" fill="#2233d8" opacity="1"/><ellipse cx="38.6" cy="82.8" rx="3.0" ry="2.6" transform="rotate(-30 38.6 82.8)" fill="#27b5ee" opacity="1"/><ellipse cx="37.9" cy="83.1" rx="1.8" ry="1.6" transform="rotate(0 37.9 83.1)" fill="#3fd84c" opacity="1"/><ellipse cx="44.2" cy="85.2" rx="1.5" ry="1.6" transform="rotate(0 44.2 85.2)" fill="#2233d8" opacity="1"/><ellipse cx="53.3" cy="83.8" rx="3.0" ry="2.8" transform="rotate(0 53.3 83.8)" fill="#3552ee" opacity="1"/><ellipse cx="53.3" cy="83.9" rx="2.0" ry="1.9" transform="rotate(0 53.3 83.9)" fill="#2233d8" opacity="1"/><ellipse cx="37.3" cy="65.3" rx="1.9" ry="2.7" transform="rotate(10 37.3 65.3)" fill="#b4c2f7" opacity="0.9"/><ellipse cx="37.3" cy="65.6" rx="1.0" ry="1.5" transform="rotate(10 37.3 65.6)" fill="#7b93f3" opacity="1"/><path d="M108 78.5 L115 68.5" fill="none" stroke="#b4c2f7" stroke-width="2.4" stroke-linecap="round" stroke-linejoin="round" opacity="0.55"/><ellipse cx="103.0" cy="81.2" rx="8.0" ry="5.4" transform="rotate(-20 103.0 81.2)" fill="#b4c2f7" opacity="0.8"/><ellipse cx="102.0" cy="82.8" rx="6.0" ry="4.0" transform="rotate(-15 102.0 82.8)" fill="#3552ee" opacity="1"/><ellipse cx="101.2" cy="83.0" rx="4.3" ry="3.4" transform="rotate(-20 101.2 83.0)" fill="#2233d8" opacity="1"/><ellipse cx="100.3" cy="83.2" rx="2.8" ry="2.5" transform="rotate(0 100.3 83.2)" fill="#27b5ee" opacity="1"/><ellipse cx="99.8" cy="83.4" rx="1.7" ry="1.6" transform="rotate(0 99.8 83.4)" fill="#3fd84c" opacity="1"/><ellipse cx="106.2" cy="83.8" rx="2.0" ry="2.5" transform="rotate(0 106.2 83.8)" fill="#2233d8" opacity="1"/><ellipse cx="116.2" cy="83.4" rx="3.0" ry="2.7" transform="rotate(0 116.2 83.4)" fill="#3552ee" opacity="1"/><ellipse cx="116.2" cy="83.5" rx="2.0" ry="1.8" transform="rotate(0 116.2 83.5)" fill="#2233d8" opacity="1"/><ellipse cx="100.4" cy="65.0" rx="1.9" ry="2.7" transform="rotate(10 100.4 65.0)" fill="#b4c2f7" opacity="0.9"/><ellipse cx="100.4" cy="65.3" rx="1.0" ry="1.5" transform="rotate(10 100.4 65.3)" fill="#7b93f3" opacity="1"/><path d="M352 71 L356 68.5" fill="none" stroke="#b4c2f7" stroke-width="2.5" stroke-linecap="round" stroke-linejoin="round" opacity="0.5"/><ellipse cx="340.6" cy="77.4" rx="11.2" ry="4.4" transform="rotate(-29 340.6 77.4)" fill="#b4c2f7" opacity="0.75"/><ellipse cx="340.6" cy="77.4" rx="10.2" ry="3.6" transform="rotate(-29 340.6 77.4)" fill="#3552ee" opacity="1"/><ellipse cx="340.8" cy="77.3" rx="8.6" ry="2.7" transform="rotate(-29 340.8 77.3)" fill="#27b5ee" opacity="1"/><ellipse cx="341.0" cy="77.2" rx="6.4" ry="1.7" transform="rotate(-29 341.0 77.2)" fill="#3fd84c" opacity="1"/><ellipse cx="360.7" cy="66.3" rx="5.0" ry="3.8" transform="rotate(-30 360.7 66.3)" fill="#b4c2f7" opacity="0.8"/><ellipse cx="360.7" cy="66.3" rx="4.1" ry="3.0" transform="rotate(-30 360.7 66.3)" fill="#3552ee" opacity="1"/><ellipse cx="360.7" cy="66.4" rx="2.8" ry="2.0" transform="rotate(-30 360.7 66.4)" fill="#27b5ee" opacity="1"/><ellipse cx="409.5" cy="76.8" rx="12.5" ry="5.2" transform="rotate(-35 409.5 76.8)" fill="#b4c2f7" opacity="0.8"/><ellipse cx="409.5" cy="76.8" rx="11.0" ry="4.2" transform="rotate(-35 409.5 76.8)" fill="#3552ee" opacity="1"/><ellipse cx="409.5" cy="76.8" rx="9.0" ry="2.6" transform="rotate(-35 409.5 76.8)" fill="#7b93f3" opacity="1"/><ellipse cx="422.5" cy="66.0" rx="8.0" ry="4.2" transform="rotate(-30 422.5 66.0)" fill="#b4c2f7" opacity="0.8"/><ellipse cx="422.5" cy="66.0" rx="7.0" ry="3.4" transform="rotate(-30 422.5 66.0)" fill="#3552ee" opacity="1"/><ellipse cx="423.0" cy="65.7" rx="5.0" ry="2.3" transform="rotate(-30 423.0 65.7)" fill="#27b5ee" opacity="1"/><ellipse cx="423.6" cy="65.5" rx="2.8" ry="1.5" transform="rotate(-30 423.6 65.5)" fill="#3fd84c" opacity="1"/><ellipse cx="410.0" cy="78.3" rx="3.6" ry="1.7" transform="rotate(-35 410.0 78.3)" fill="#27b5ee" opacity="1"/><ellipse cx="410.0" cy="78.3" rx="2.2" ry="1.0" transform="rotate(-35 410.0 78.3)" fill="#3fd84c" opacity="1"/><path d="M31.5 204.6 L35 202.5 L40.8 195.6 L47.7 189.6 L54.6 186.0 L62.7 183.6 L59.2 189.6 L54.6 197.7 L50 203.5 L43 205.8 L33.8 206.9 Z" fill="#7b93f3" opacity="0.42" stroke="#3552ee" stroke-width="1.1" stroke-linejoin="round"/><path d="M37 201 L44 195.5 L52 190" fill="none" stroke="#3552ee" stroke-width="0.9" stroke-linecap="round" stroke-linejoin="round" opacity="0.9"/><path d="M39 204.5 L47 199 L55 193" fill="none" stroke="#3552ee" stroke-width="0.9" stroke-linecap="round" stroke-linejoin="round" opacity="0.9"/><path d="M42 200 L50 196" fill="none" stroke="#b4c2f7" stroke-width="0.8" stroke-linecap="round" stroke-linejoin="round" opacity="0.9"/><path d="M45 204.5 L52.5 201.5" fill="none" stroke="#3552ee" stroke-width="2.6" stroke-linecap="round" stroke-linejoin="round" opacity="1"/><path d="M47 204 L51 202.3" fill="none" stroke="#27b5ee" stroke-width="1.2" stroke-linecap="round" stroke-linejoin="round" opacity="1"/><ellipse cx="34.0" cy="204.8" rx="2.8" ry="2.0" transform="rotate(-20 34.0 204.8)" fill="#3552ee" opacity="1"/><ellipse cx="33.8" cy="204.9" rx="1.8" ry="1.3" transform="rotate(-20 33.8 204.9)" fill="#27b5ee" opacity="1"/><ellipse cx="57.8" cy="189.0" rx="6.6" ry="3.3" transform="rotate(-45 57.8 189.0)" fill="#3552ee" opacity="1"/><ellipse cx="57.9" cy="188.9" rx="5.4" ry="2.5" transform="rotate(-45 57.9 188.9)" fill="#27b5ee" opacity="1"/><ellipse cx="57.6" cy="189.3" rx="4.0" ry="1.8" transform="rotate(-45 57.6 189.3)" fill="#3fd84c" opacity="1"/><ellipse cx="57.2" cy="189.8" rx="2.2" ry="1.2" transform="rotate(-45 57.2 189.8)" fill="#dfe23a" opacity="1"/><ellipse cx="57.0" cy="190.0" rx="1.0" ry="0.7" transform="rotate(-45 57.0 190.0)" fill="#e2382a" opacity="1"/><path d="M105.4 197.5 L117 185" fill="none" stroke="#3552ee" stroke-width="1.4" stroke-linecap="round" stroke-linejoin="round" opacity="0.9"/><path d="M95 204.6 L100 201.5 L105.5 198.5 L112 197.5 L118 195.5 L116 201 L113 205.5 L106 206 L98 206.5 Z" fill="#7b93f3" opacity="0.42" stroke="#3552ee" stroke-width="1.0" stroke-linejoin="round"/><ellipse cx="100.0" cy="202.8" rx="5.6" ry="2.7" transform="rotate(-25 100.0 202.8)" fill="#3552ee" opacity="1"/><ellipse cx="99.6" cy="203.0" rx="4.0" ry="1.9" transform="rotate(-25 99.6 203.0)" fill="#27b5ee" opacity="1"/><ellipse cx="98.8" cy="203.5" rx="2.2" ry="1.2" transform="rotate(-25 98.8 203.5)" fill="#3fd84c" opacity="1"/><path d="M108 204 L114.5 203" fill="none" stroke="#3552ee" stroke-width="2.6" stroke-linecap="round" stroke-linejoin="round" opacity="1"/><path d="M109 203.9 L113 203.3" fill="none" stroke="#27b5ee" stroke-width="1.1" stroke-linecap="round" stroke-linejoin="round" opacity="1"/><ellipse cx="121.8" cy="189.8" rx="6.8" ry="3.0" transform="rotate(-58 121.8 189.8)" fill="#3552ee" opacity="1"/><ellipse cx="121.8" cy="189.8" rx="5.6" ry="2.3" transform="rotate(-58 121.8 189.8)" fill="#27b5ee" opacity="1"/><ellipse cx="121.5" cy="190.2" rx="4.0" ry="1.7" transform="rotate(-58 121.5 190.2)" fill="#3fd84c" opacity="1"/><ellipse cx="121.2" cy="190.5" rx="2.2" ry="1.1" transform="rotate(-58 121.2 190.5)" fill="#dfe23a" opacity="1"/><ellipse cx="121.1" cy="190.6" rx="1.0" ry="0.7" transform="rotate(-58 121.1 190.6)" fill="#f39a2a" opacity="1"/><path d="M337.6 183.5 L337.9 196" fill="none" stroke="#b4c2f7" stroke-width="2.6" stroke-linecap="round" stroke-linejoin="round" opacity="0.9"/><path d="M337.6 185.5 L337.9 196" fill="none" stroke="#7b93f3" stroke-width="1.6" stroke-linecap="round" stroke-linejoin="round" opacity="1"/><ellipse cx="338.1" cy="203.0" rx="2.6" ry="10.0" transform="rotate(0 338.1 203.0)" fill="#b4c2f7" opacity="0.9"/><ellipse cx="338.1" cy="203.0" rx="2.2" ry="9.0" transform="rotate(0 338.1 203.0)" fill="#3552ee" opacity="1"/><ellipse cx="337.9" cy="203.8" rx="1.6" ry="6.8" transform="rotate(0 337.9 203.8)" fill="#27b5ee" opacity="1"/><ellipse cx="337.6" cy="204.2" rx="1.0" ry="4.2" transform="rotate(0 337.6 204.2)" fill="#3fd84c" opacity="1"/><path d="M337.5 196 L338.5 199" fill="none" stroke="#2233d8" stroke-width="1.6" stroke-linecap="round" stroke-linejoin="round" opacity="1"/><path d="M400.2 184.5 L400.2 196" fill="none" stroke="#b4c2f7" stroke-width="2.0" stroke-linecap="round" stroke-linejoin="round" opacity="0.9"/><path d="M400.2 186 L400.2 196" fill="none" stroke="#7b93f3" stroke-width="1.2" stroke-linecap="round" stroke-linejoin="round" opacity="1"/><ellipse cx="400.5" cy="202.5" rx="2.0" ry="9.5" transform="rotate(0 400.5 202.5)" fill="#b4c2f7" opacity="0.9"/><ellipse cx="400.5" cy="202.5" rx="1.6" ry="8.5" transform="rotate(0 400.5 202.5)" fill="#3552ee" opacity="1"/><ellipse cx="400.6" cy="200.5" rx="1.1" ry="4.5" transform="rotate(0 400.6 200.5)" fill="#2233d8" opacity="1"/><ellipse cx="399.9" cy="206.5" rx="0.8" ry="3.0" transform="rotate(0 399.9 206.5)" fill="#2fd0c0" opacity="1"/><path d="M44 331.8 L56 332.0 L63.8 332.3" fill="none" stroke="#b4c2f7" stroke-width="4.6" stroke-linecap="round" stroke-linejoin="round" opacity="0.8"/><path d="M44 331.8 L56 332.0 L63.2 332.3" fill="none" stroke="#3552ee" stroke-width="3.4" stroke-linecap="round" stroke-linejoin="round" opacity="1"/><path d="M55.5 332.2 L61.5 332.3" fill="none" stroke="#27b5ee" stroke-width="2.0" stroke-linecap="round" stroke-linejoin="round" opacity="1"/><path d="M56.5 332.2 L60.5 332.3" fill="none" stroke="#3fd84c" stroke-width="1.2" stroke-linecap="round" stroke-linejoin="round" opacity="1"/><path d="M30 333.2 L35 327.8 L45.6 319.6 L47 322.5 L45 328 L47.5 333.8 Z" fill="#3552ee" opacity="1" stroke="#3552ee" stroke-width="1.6" stroke-linejoin="round"/><path d="M32.5 332.2 L36.5 328.2 L43.6 322.6 L43 327 L41 332.2 Z" fill="#27b5ee" opacity="1" stroke="#27b5ee" stroke-width="0.8" stroke-linejoin="round"/><ellipse cx="38.0" cy="328.6" rx="3.2" ry="2.0" transform="rotate(-40 38.0 328.6)" fill="#3fd84c" opacity="1"/><ellipse cx="37.6" cy="328.5" rx="1.8" ry="1.2" transform="rotate(-40 37.6 328.5)" fill="#dfe23a" opacity="1"/><ellipse cx="37.4" cy="328.4" rx="0.9" ry="0.7" transform="rotate(-40 37.4 328.4)" fill="#e2382a" opacity="1"/><path d="M95.5 331.8 L110 331.6 L126.8 331.8" fill="none" stroke="#b4c2f7" stroke-width="3.8" stroke-linecap="round" stroke-linejoin="round" opacity="0.8"/><path d="M95.5 331.8 L110 331.6 L126.3 331.8" fill="none" stroke="#3552ee" stroke-width="2.7" stroke-linecap="round" stroke-linejoin="round" opacity="1"/><path d="M97 331.7 L115 331.6" fill="none" stroke="#27b5ee" stroke-width="1.4" stroke-linecap="round" stroke-linejoin="round" opacity="1"/><path d="M117.5 331.7 L124.5 331.8" fill="none" stroke="#3fd84c" stroke-width="1.8" stroke-linecap="round" stroke-linejoin="round" opacity="1"/><path d="M103.5 329.0 L108 323.8 L112.3 318.5" fill="none" stroke="#3552ee" stroke-width="3.2" stroke-linecap="round" stroke-linejoin="round" opacity="1"/><path d="M104.3 328.2 L108 323.8 L111.3 319.8" fill="none" stroke="#27b5ee" stroke-width="2.0" stroke-linecap="round" stroke-linejoin="round" opacity="1"/><path d="M105.5 326.6 L109.5 321.8" fill="none" stroke="#3fd84c" stroke-width="1.3" stroke-linecap="round" stroke-linejoin="round" opacity="1"/></g>
<rect x="21" y="36.7" width="57.5" height="58.3" fill="none" stroke="#cfcfcf" stroke-width="0.7"/>
<line x1="20.4" y1="87.9" x2="21.7" y2="87.9" stroke="#8a8a8a" stroke-width="0.5"/>
<line x1="20.4" y1="80.8" x2="21.7" y2="80.8" stroke="#8a8a8a" stroke-width="0.5"/>
<line x1="20.4" y1="73.7" x2="21.7" y2="73.7" stroke="#8a8a8a" stroke-width="0.5"/>
<line x1="20.4" y1="66.6" x2="21.7" y2="66.6" stroke="#8a8a8a" stroke-width="0.5"/>
<line x1="20.4" y1="59.5" x2="21.7" y2="59.5" stroke="#8a8a8a" stroke-width="0.5"/>
<line x1="20.4" y1="52.3" x2="21.7" y2="52.3" stroke="#8a8a8a" stroke-width="0.5"/>
<line x1="20.4" y1="45.2" x2="21.7" y2="45.2" stroke="#8a8a8a" stroke-width="0.5"/>
<line x1="28.0" y1="94.3" x2="28.0" y2="95.6" stroke="#8a8a8a" stroke-width="0.5"/>
<line x1="35.0" y1="94.3" x2="35.0" y2="95.6" stroke="#8a8a8a" stroke-width="0.5"/>
<line x1="42.0" y1="94.3" x2="42.0" y2="95.6" stroke="#8a8a8a" stroke-width="0.5"/>
<line x1="49.0" y1="94.3" x2="49.0" y2="95.6" stroke="#8a8a8a" stroke-width="0.5"/>
<line x1="56.1" y1="94.3" x2="56.1" y2="95.6" stroke="#8a8a8a" stroke-width="0.5"/>
<line x1="63.1" y1="94.3" x2="63.1" y2="95.6" stroke="#8a8a8a" stroke-width="0.5"/>
<line x1="70.1" y1="94.3" x2="70.1" y2="95.6" stroke="#8a8a8a" stroke-width="0.5"/>
<circle cx="21.2" cy="87" r="0.9" fill="#222"/>
<circle cx="35" cy="95.2" r="0.9" fill="#222"/>
<rect x="82.5" y="36.7" width="59.0" height="58.3" fill="none" stroke="#cfcfcf" stroke-width="0.7"/>
<line x1="81.9" y1="87.9" x2="83.2" y2="87.9" stroke="#8a8a8a" stroke-width="0.5"/>
<line x1="81.9" y1="80.8" x2="83.2" y2="80.8" stroke="#8a8a8a" stroke-width="0.5"/>
<line x1="81.9" y1="73.7" x2="83.2" y2="73.7" stroke="#8a8a8a" stroke-width="0.5"/>
<line x1="81.9" y1="66.6" x2="83.2" y2="66.6" stroke="#8a8a8a" stroke-width="0.5"/>
<line x1="81.9" y1="59.5" x2="83.2" y2="59.5" stroke="#8a8a8a" stroke-width="0.5"/>
<line x1="81.9" y1="52.3" x2="83.2" y2="52.3" stroke="#8a8a8a" stroke-width="0.5"/>
<line x1="81.9" y1="45.2" x2="83.2" y2="45.2" stroke="#8a8a8a" stroke-width="0.5"/>
<line x1="89.7" y1="94.3" x2="89.7" y2="95.6" stroke="#8a8a8a" stroke-width="0.5"/>
<line x1="96.9" y1="94.3" x2="96.9" y2="95.6" stroke="#8a8a8a" stroke-width="0.5"/>
<line x1="104.1" y1="94.3" x2="104.1" y2="95.6" stroke="#8a8a8a" stroke-width="0.5"/>
<line x1="111.3" y1="94.3" x2="111.3" y2="95.6" stroke="#8a8a8a" stroke-width="0.5"/>
<line x1="118.5" y1="94.3" x2="118.5" y2="95.6" stroke="#8a8a8a" stroke-width="0.5"/>
<line x1="125.7" y1="94.3" x2="125.7" y2="95.6" stroke="#8a8a8a" stroke-width="0.5"/>
<line x1="132.9" y1="94.3" x2="132.9" y2="95.6" stroke="#8a8a8a" stroke-width="0.5"/>
<circle cx="82.7" cy="87" r="0.9" fill="#222"/>
<circle cx="96.5" cy="95.2" r="0.9" fill="#222"/>
<rect x="321.2" y="36.5" width="57.60000000000002" height="58.5" fill="none" stroke="#cfcfcf" stroke-width="0.7"/>
<line x1="320.59999999999997" y1="87.9" x2="321.9" y2="87.9" stroke="#8a8a8a" stroke-width="0.5"/>
<line x1="320.59999999999997" y1="80.7" x2="321.9" y2="80.7" stroke="#8a8a8a" stroke-width="0.5"/>
<line x1="320.59999999999997" y1="73.6" x2="321.9" y2="73.6" stroke="#8a8a8a" stroke-width="0.5"/>
<line x1="320.59999999999997" y1="66.5" x2="321.9" y2="66.5" stroke="#8a8a8a" stroke-width="0.5"/>
<line x1="320.59999999999997" y1="59.3" x2="321.9" y2="59.3" stroke="#8a8a8a" stroke-width="0.5"/>
<line x1="320.59999999999997" y1="52.2" x2="321.9" y2="52.2" stroke="#8a8a8a" stroke-width="0.5"/>
<line x1="320.59999999999997" y1="45.1" x2="321.9" y2="45.1" stroke="#8a8a8a" stroke-width="0.5"/>
<line x1="328.2" y1="94.3" x2="328.2" y2="95.6" stroke="#8a8a8a" stroke-width="0.5"/>
<line x1="335.2" y1="94.3" x2="335.2" y2="95.6" stroke="#8a8a8a" stroke-width="0.5"/>
<line x1="342.3" y1="94.3" x2="342.3" y2="95.6" stroke="#8a8a8a" stroke-width="0.5"/>
<line x1="349.3" y1="94.3" x2="349.3" y2="95.6" stroke="#8a8a8a" stroke-width="0.5"/>
<line x1="356.3" y1="94.3" x2="356.3" y2="95.6" stroke="#8a8a8a" stroke-width="0.5"/>
<line x1="363.3" y1="94.3" x2="363.3" y2="95.6" stroke="#8a8a8a" stroke-width="0.5"/>
<line x1="370.4" y1="94.3" x2="370.4" y2="95.6" stroke="#8a8a8a" stroke-width="0.5"/>
<circle cx="321.4" cy="87" r="0.9" fill="#222"/>
<circle cx="335.2" cy="95.2" r="0.9" fill="#222"/>
<rect x="384.2" y="36.5" width="58.10000000000002" height="58.5" fill="none" stroke="#cfcfcf" stroke-width="0.7"/>
<line x1="383.59999999999997" y1="87.9" x2="384.9" y2="87.9" stroke="#8a8a8a" stroke-width="0.5"/>
<line x1="383.59999999999997" y1="80.7" x2="384.9" y2="80.7" stroke="#8a8a8a" stroke-width="0.5"/>
<line x1="383.59999999999997" y1="73.6" x2="384.9" y2="73.6" stroke="#8a8a8a" stroke-width="0.5"/>
<line x1="383.59999999999997" y1="66.5" x2="384.9" y2="66.5" stroke="#8a8a8a" stroke-width="0.5"/>
<line x1="383.59999999999997" y1="59.3" x2="384.9" y2="59.3" stroke="#8a8a8a" stroke-width="0.5"/>
<line x1="383.59999999999997" y1="52.2" x2="384.9" y2="52.2" stroke="#8a8a8a" stroke-width="0.5"/>
<line x1="383.59999999999997" y1="45.1" x2="384.9" y2="45.1" stroke="#8a8a8a" stroke-width="0.5"/>
<line x1="391.3" y1="94.3" x2="391.3" y2="95.6" stroke="#8a8a8a" stroke-width="0.5"/>
<line x1="398.4" y1="94.3" x2="398.4" y2="95.6" stroke="#8a8a8a" stroke-width="0.5"/>
<line x1="405.5" y1="94.3" x2="405.5" y2="95.6" stroke="#8a8a8a" stroke-width="0.5"/>
<line x1="412.5" y1="94.3" x2="412.5" y2="95.6" stroke="#8a8a8a" stroke-width="0.5"/>
<line x1="419.6" y1="94.3" x2="419.6" y2="95.6" stroke="#8a8a8a" stroke-width="0.5"/>
<line x1="426.7" y1="94.3" x2="426.7" y2="95.6" stroke="#8a8a8a" stroke-width="0.5"/>
<line x1="433.8" y1="94.3" x2="433.8" y2="95.6" stroke="#8a8a8a" stroke-width="0.5"/>
<circle cx="384.4" cy="87" r="0.9" fill="#222"/>
<circle cx="398.2" cy="95.2" r="0.9" fill="#222"/>
<rect x="20.6" y="159.6" width="57.9" height="57.20000000000002" fill="none" stroke="#cfcfcf" stroke-width="0.7"/>
<line x1="20.0" y1="209.8" x2="21.3" y2="209.8" stroke="#8a8a8a" stroke-width="0.5"/>
<line x1="20.0" y1="202.8" x2="21.3" y2="202.8" stroke="#8a8a8a" stroke-width="0.5"/>
<line x1="20.0" y1="195.9" x2="21.3" y2="195.9" stroke="#8a8a8a" stroke-width="0.5"/>
<line x1="20.0" y1="188.9" x2="21.3" y2="188.9" stroke="#8a8a8a" stroke-width="0.5"/>
<line x1="20.0" y1="181.9" x2="21.3" y2="181.9" stroke="#8a8a8a" stroke-width="0.5"/>
<line x1="20.0" y1="174.9" x2="21.3" y2="174.9" stroke="#8a8a8a" stroke-width="0.5"/>
<line x1="20.0" y1="168.0" x2="21.3" y2="168.0" stroke="#8a8a8a" stroke-width="0.5"/>
<line x1="27.7" y1="216.10000000000002" x2="27.7" y2="217.4" stroke="#8a8a8a" stroke-width="0.5"/>
<line x1="34.7" y1="216.10000000000002" x2="34.7" y2="217.4" stroke="#8a8a8a" stroke-width="0.5"/>
<line x1="41.8" y1="216.10000000000002" x2="41.8" y2="217.4" stroke="#8a8a8a" stroke-width="0.5"/>
<line x1="48.8" y1="216.10000000000002" x2="48.8" y2="217.4" stroke="#8a8a8a" stroke-width="0.5"/>
<line x1="55.9" y1="216.10000000000002" x2="55.9" y2="217.4" stroke="#8a8a8a" stroke-width="0.5"/>
<line x1="63.0" y1="216.10000000000002" x2="63.0" y2="217.4" stroke="#8a8a8a" stroke-width="0.5"/>
<line x1="70.0" y1="216.10000000000002" x2="70.0" y2="217.4" stroke="#8a8a8a" stroke-width="0.5"/>
<circle cx="20.8" cy="208.8" r="0.9" fill="#222"/>
<circle cx="34.6" cy="217.0" r="0.9" fill="#222"/>
<rect x="84.4" y="159.6" width="57.900000000000006" height="57.20000000000002" fill="none" stroke="#cfcfcf" stroke-width="0.7"/>
<line x1="83.80000000000001" y1="209.8" x2="85.10000000000001" y2="209.8" stroke="#8a8a8a" stroke-width="0.5"/>
<line x1="83.80000000000001" y1="202.8" x2="85.10000000000001" y2="202.8" stroke="#8a8a8a" stroke-width="0.5"/>
<line x1="83.80000000000001" y1="195.9" x2="85.10000000000001" y2="195.9" stroke="#8a8a8a" stroke-width="0.5"/>
<line x1="83.80000000000001" y1="188.9" x2="85.10000000000001" y2="188.9" stroke="#8a8a8a" stroke-width="0.5"/>
<line x1="83.80000000000001" y1="181.9" x2="85.10000000000001" y2="181.9" stroke="#8a8a8a" stroke-width="0.5"/>
<line x1="83.80000000000001" y1="174.9" x2="85.10000000000001" y2="174.9" stroke="#8a8a8a" stroke-width="0.5"/>
<line x1="83.80000000000001" y1="168.0" x2="85.10000000000001" y2="168.0" stroke="#8a8a8a" stroke-width="0.5"/>
<line x1="91.5" y1="216.10000000000002" x2="91.5" y2="217.4" stroke="#8a8a8a" stroke-width="0.5"/>
<line x1="98.5" y1="216.10000000000002" x2="98.5" y2="217.4" stroke="#8a8a8a" stroke-width="0.5"/>
<line x1="105.6" y1="216.10000000000002" x2="105.6" y2="217.4" stroke="#8a8a8a" stroke-width="0.5"/>
<line x1="112.6" y1="216.10000000000002" x2="112.6" y2="217.4" stroke="#8a8a8a" stroke-width="0.5"/>
<line x1="119.7" y1="216.10000000000002" x2="119.7" y2="217.4" stroke="#8a8a8a" stroke-width="0.5"/>
<line x1="126.8" y1="216.10000000000002" x2="126.8" y2="217.4" stroke="#8a8a8a" stroke-width="0.5"/>
<line x1="133.8" y1="216.10000000000002" x2="133.8" y2="217.4" stroke="#8a8a8a" stroke-width="0.5"/>
<circle cx="84.60000000000001" cy="208.8" r="0.9" fill="#222"/>
<circle cx="98.4" cy="217.0" r="0.9" fill="#222"/>
<rect x="321.4" y="159.6" width="57.5" height="57.20000000000002" fill="none" stroke="#cfcfcf" stroke-width="0.7"/>
<line x1="320.79999999999995" y1="209.8" x2="322.09999999999997" y2="209.8" stroke="#8a8a8a" stroke-width="0.5"/>
<line x1="320.79999999999995" y1="202.8" x2="322.09999999999997" y2="202.8" stroke="#8a8a8a" stroke-width="0.5"/>
<line x1="320.79999999999995" y1="195.9" x2="322.09999999999997" y2="195.9" stroke="#8a8a8a" stroke-width="0.5"/>
<line x1="320.79999999999995" y1="188.9" x2="322.09999999999997" y2="188.9" stroke="#8a8a8a" stroke-width="0.5"/>
<line x1="320.79999999999995" y1="181.9" x2="322.09999999999997" y2="181.9" stroke="#8a8a8a" stroke-width="0.5"/>
<line x1="320.79999999999995" y1="174.9" x2="322.09999999999997" y2="174.9" stroke="#8a8a8a" stroke-width="0.5"/>
<line x1="320.79999999999995" y1="168.0" x2="322.09999999999997" y2="168.0" stroke="#8a8a8a" stroke-width="0.5"/>
<line x1="328.4" y1="216.10000000000002" x2="328.4" y2="217.4" stroke="#8a8a8a" stroke-width="0.5"/>
<line x1="335.4" y1="216.10000000000002" x2="335.4" y2="217.4" stroke="#8a8a8a" stroke-width="0.5"/>
<line x1="342.4" y1="216.10000000000002" x2="342.4" y2="217.4" stroke="#8a8a8a" stroke-width="0.5"/>
<line x1="349.4" y1="216.10000000000002" x2="349.4" y2="217.4" stroke="#8a8a8a" stroke-width="0.5"/>
<line x1="356.5" y1="216.10000000000002" x2="356.5" y2="217.4" stroke="#8a8a8a" stroke-width="0.5"/>
<line x1="363.5" y1="216.10000000000002" x2="363.5" y2="217.4" stroke="#8a8a8a" stroke-width="0.5"/>
<line x1="370.5" y1="216.10000000000002" x2="370.5" y2="217.4" stroke="#8a8a8a" stroke-width="0.5"/>
<circle cx="321.59999999999997" cy="208.8" r="0.9" fill="#222"/>
<circle cx="335.4" cy="217.0" r="0.9" fill="#222"/>
<rect x="384.4" y="159.6" width="57.900000000000034" height="57.20000000000002" fill="none" stroke="#cfcfcf" stroke-width="0.7"/>
<line x1="383.79999999999995" y1="209.8" x2="385.09999999999997" y2="209.8" stroke="#8a8a8a" stroke-width="0.5"/>
<line x1="383.79999999999995" y1="202.8" x2="385.09999999999997" y2="202.8" stroke="#8a8a8a" stroke-width="0.5"/>
<line x1="383.79999999999995" y1="195.9" x2="385.09999999999997" y2="195.9" stroke="#8a8a8a" stroke-width="0.5"/>
<line x1="383.79999999999995" y1="188.9" x2="385.09999999999997" y2="188.9" stroke="#8a8a8a" stroke-width="0.5"/>
<line x1="383.79999999999995" y1="181.9" x2="385.09999999999997" y2="181.9" stroke="#8a8a8a" stroke-width="0.5"/>
<line x1="383.79999999999995" y1="174.9" x2="385.09999999999997" y2="174.9" stroke="#8a8a8a" stroke-width="0.5"/>
<line x1="383.79999999999995" y1="168.0" x2="385.09999999999997" y2="168.0" stroke="#8a8a8a" stroke-width="0.5"/>
<line x1="391.5" y1="216.10000000000002" x2="391.5" y2="217.4" stroke="#8a8a8a" stroke-width="0.5"/>
<line x1="398.5" y1="216.10000000000002" x2="398.5" y2="217.4" stroke="#8a8a8a" stroke-width="0.5"/>
<line x1="405.6" y1="216.10000000000002" x2="405.6" y2="217.4" stroke="#8a8a8a" stroke-width="0.5"/>
<line x1="412.6" y1="216.10000000000002" x2="412.6" y2="217.4" stroke="#8a8a8a" stroke-width="0.5"/>
<line x1="419.7" y1="216.10000000000002" x2="419.7" y2="217.4" stroke="#8a8a8a" stroke-width="0.5"/>
<line x1="426.8" y1="216.10000000000002" x2="426.8" y2="217.4" stroke="#8a8a8a" stroke-width="0.5"/>
<line x1="433.8" y1="216.10000000000002" x2="433.8" y2="217.4" stroke="#8a8a8a" stroke-width="0.5"/>
<circle cx="384.59999999999997" cy="208.8" r="0.9" fill="#222"/>
<circle cx="398.4" cy="217.0" r="0.9" fill="#222"/>
<rect x="19.4" y="286.5" width="58.4" height="57.30000000000001" fill="none" stroke="#cfcfcf" stroke-width="0.7"/>
<line x1="18.799999999999997" y1="336.8" x2="20.099999999999998" y2="336.8" stroke="#8a8a8a" stroke-width="0.5"/>
<line x1="18.799999999999997" y1="329.8" x2="20.099999999999998" y2="329.8" stroke="#8a8a8a" stroke-width="0.5"/>
<line x1="18.799999999999997" y1="322.8" x2="20.099999999999998" y2="322.8" stroke="#8a8a8a" stroke-width="0.5"/>
<line x1="18.799999999999997" y1="315.8" x2="20.099999999999998" y2="315.8" stroke="#8a8a8a" stroke-width="0.5"/>
<line x1="18.799999999999997" y1="308.9" x2="20.099999999999998" y2="308.9" stroke="#8a8a8a" stroke-width="0.5"/>
<line x1="18.799999999999997" y1="301.9" x2="20.099999999999998" y2="301.9" stroke="#8a8a8a" stroke-width="0.5"/>
<line x1="18.799999999999997" y1="294.9" x2="20.099999999999998" y2="294.9" stroke="#8a8a8a" stroke-width="0.5"/>
<line x1="26.5" y1="343.1" x2="26.5" y2="344.40000000000003" stroke="#8a8a8a" stroke-width="0.5"/>
<line x1="33.6" y1="343.1" x2="33.6" y2="344.40000000000003" stroke="#8a8a8a" stroke-width="0.5"/>
<line x1="40.8" y1="343.1" x2="40.8" y2="344.40000000000003" stroke="#8a8a8a" stroke-width="0.5"/>
<line x1="47.9" y1="343.1" x2="47.9" y2="344.40000000000003" stroke="#8a8a8a" stroke-width="0.5"/>
<line x1="55.0" y1="343.1" x2="55.0" y2="344.40000000000003" stroke="#8a8a8a" stroke-width="0.5"/>
<line x1="62.1" y1="343.1" x2="62.1" y2="344.40000000000003" stroke="#8a8a8a" stroke-width="0.5"/>
<line x1="69.3" y1="343.1" x2="69.3" y2="344.40000000000003" stroke="#8a8a8a" stroke-width="0.5"/>
<circle cx="19.599999999999998" cy="335.8" r="0.9" fill="#222"/>
<circle cx="33.4" cy="344.0" r="0.9" fill="#222"/>
<rect x="82.6" y="286.3" width="58.20000000000002" height="57.80000000000001" fill="none" stroke="#cfcfcf" stroke-width="0.7"/>
<line x1="82.0" y1="337.1" x2="83.3" y2="337.1" stroke="#8a8a8a" stroke-width="0.5"/>
<line x1="82.0" y1="330.0" x2="83.3" y2="330.0" stroke="#8a8a8a" stroke-width="0.5"/>
<line x1="82.0" y1="323.0" x2="83.3" y2="323.0" stroke="#8a8a8a" stroke-width="0.5"/>
<line x1="82.0" y1="315.9" x2="83.3" y2="315.9" stroke="#8a8a8a" stroke-width="0.5"/>
<line x1="82.0" y1="308.9" x2="83.3" y2="308.9" stroke="#8a8a8a" stroke-width="0.5"/>
<line x1="82.0" y1="301.8" x2="83.3" y2="301.8" stroke="#8a8a8a" stroke-width="0.5"/>
<line x1="82.0" y1="294.8" x2="83.3" y2="294.8" stroke="#8a8a8a" stroke-width="0.5"/>
<line x1="89.7" y1="343.40000000000003" x2="89.7" y2="344.70000000000005" stroke="#8a8a8a" stroke-width="0.5"/>
<line x1="96.8" y1="343.40000000000003" x2="96.8" y2="344.70000000000005" stroke="#8a8a8a" stroke-width="0.5"/>
<line x1="103.9" y1="343.40000000000003" x2="103.9" y2="344.70000000000005" stroke="#8a8a8a" stroke-width="0.5"/>
<line x1="111.0" y1="343.40000000000003" x2="111.0" y2="344.70000000000005" stroke="#8a8a8a" stroke-width="0.5"/>
<line x1="118.1" y1="343.40000000000003" x2="118.1" y2="344.70000000000005" stroke="#8a8a8a" stroke-width="0.5"/>
<line x1="125.2" y1="343.40000000000003" x2="125.2" y2="344.70000000000005" stroke="#8a8a8a" stroke-width="0.5"/>
<line x1="132.3" y1="343.40000000000003" x2="132.3" y2="344.70000000000005" stroke="#8a8a8a" stroke-width="0.5"/>
<circle cx="82.8" cy="336.1" r="0.9" fill="#222"/>
<circle cx="96.6" cy="344.3" r="0.9" fill="#222"/>
<rect x="31.2" y="47.7" width="16.000000000000004" height="23.5" fill="none" stroke="#8e8e9c" stroke-width="0.55"/>
<rect x="47.7" y="71.5" width="16.5" height="23.5" fill="none" stroke="#8e8e9c" stroke-width="0.55"/>
<rect x="93.8" y="47.8" width="17.0" height="23.400000000000006" fill="none" stroke="#8e8e9c" stroke-width="0.55"/>
<rect x="111.2" y="71.6" width="16.5" height="23.400000000000006" fill="none" stroke="#8e8e9c" stroke-width="0.55"/>
<rect x="353.5" y="53.5" width="19.19999999999999" height="22.700000000000003" fill="none" stroke="#8e8e9c" stroke-width="0.55"/>
<rect x="416.5" y="53.5" width="19.30000000000001" height="22.700000000000003" fill="none" stroke="#8e8e9c" stroke-width="0.55"/>
<rect x="43.3" y="172" width="26.200000000000003" height="43.599999999999994" fill="none" stroke="#8e8e9c" stroke-width="0.55"/>
<line x1="43.3" y1="197.6" x2="69.5" y2="197.6" stroke="#8e8e9c" stroke-width="0.55"/>
<rect x="106.3" y="172.4" width="26.60000000000001" height="43.0" fill="none" stroke="#8e8e9c" stroke-width="0.55"/>
<line x1="106.3" y1="197.4" x2="132.9" y2="197.4" stroke="#8e8e9c" stroke-width="0.55"/>
<rect x="329.4" y="171.3" width="20.400000000000034" height="25.0" fill="none" stroke="#8e8e9c" stroke-width="0.55"/>
<rect x="392.1" y="171.3" width="20.19999999999999" height="25.0" fill="none" stroke="#8e8e9c" stroke-width="0.55"/>
<rect x="52.3" y="302.4" width="21.60000000000001" height="24.0" fill="none" stroke="#8e8e9c" stroke-width="0.55"/>
<rect x="114.5" y="302.3" width="22.099999999999994" height="24.099999999999966" fill="none" stroke="#8e8e9c" stroke-width="0.55"/>
<text x="30.8" y="45.7" font-size="7.2" fill="#111" stroke="#111" stroke-width="0.15">1.13</text>
<text x="63.8" y="63.5" font-size="7.2" fill="#111" stroke="#111" stroke-width="0.15">7.40</text>
<text x="93.8" y="45.8" font-size="7.2" fill="#111" stroke="#111" stroke-width="0.15">1.53</text>
<text x="125.7" y="63.5" font-size="7.2" fill="#111" stroke="#111" stroke-width="0.15">8.86</text>
<text x="357" y="50" font-size="7.2" fill="#111" stroke="#111" stroke-width="0.15">17.4</text>
<text x="418" y="50.4" font-size="7.2" fill="#111" stroke="#111" stroke-width="0.15">40.2</text>
<text x="49.1" y="171" font-size="7.2" fill="#111" stroke="#111" stroke-width="0.15">74.6</text>
<text x="63.7" y="211.7" font-size="7.2" fill="#111" stroke="#111" stroke-width="0.15">12.7</text>
<text x="111.5" y="171" font-size="7.2" fill="#111" stroke="#111" stroke-width="0.15">54.9</text>
<text x="126" y="211.7" font-size="7.2" fill="#111" stroke="#111" stroke-width="0.15">14.4</text>
<text x="338.6" y="169" font-size="7.2" fill="#111" stroke="#111" stroke-width="0.15">10.2</text>
<text x="401.8" y="169" font-size="7.2" fill="#111" stroke="#111" stroke-width="0.15">7.21</text>
<text x="53.5" y="299.8" font-size="7.2" fill="#111" stroke="#111" stroke-width="0.15">0.40</text>
<text x="116.5" y="299.7" font-size="7.2" fill="#111" stroke="#111" stroke-width="0.15">0.88</text>
<text x="40" y="31.2" font-size="9.2" fill="#111" stroke="#111" stroke-width="0.2">male</text>
<text x="97.4" y="31.2" font-size="9.2" fill="#111" stroke="#111" stroke-width="0.2">female</text>
<text x="341.2" y="30.6" font-size="9.2" fill="#111" stroke="#111" stroke-width="0.2">male</text>
<text x="403" y="30.6" font-size="9.2" fill="#111" stroke="#111" stroke-width="0.2">female</text>
<text x="39.7" y="153.8" font-size="9.2" fill="#111" stroke="#111" stroke-width="0.2">male</text>
<text x="96.9" y="153.8" font-size="9.2" fill="#111" stroke="#111" stroke-width="0.2">female</text>
<text x="339.7" y="153.8" font-size="9.2" fill="#111" stroke="#111" stroke-width="0.2">male</text>
<text x="401.3" y="153.8" font-size="9.2" fill="#111" stroke="#111" stroke-width="0.2">female</text>
<text x="38.6" y="280.5" font-size="9.2" fill="#111" stroke="#111" stroke-width="0.2">male</text>
<text x="95.4" y="280.5" font-size="9.2" fill="#111" stroke="#111" stroke-width="0.2">female</text>
<line x1="13.3" y1="77" x2="13.3" y2="103.5" stroke="#111" stroke-width="0.9"/>
<line x1="12.850000000000001" y1="103.5" x2="41.2" y2="103.5" stroke="#111" stroke-width="0.9"/>
<path d="M13.3 74 L11.200000000000001 78.6 L15.4 78.6 Z" fill="#111"/>
<path d="M44.2 103.5 L39.6 101.4 L39.6 105.6 Z" fill="#111"/>
<text transform="translate(16.6,64.2) rotate(-90)" x="-5.75" y="0" font-size="10.4" fill="#111" stroke="#111" stroke-width="0.45" textLength="11.5" lengthAdjust="spacingAndGlyphs">CD4</text>
<text x="47.9" y="106.3" font-size="10.4" fill="#111" stroke="#111" stroke-width="0.45" textLength="12.300000000000004" lengthAdjust="spacingAndGlyphs">CD8</text>
<line x1="312.7" y1="75.7" x2="312.7" y2="102.7" stroke="#111" stroke-width="0.9"/>
<line x1="312.25" y1="102.7" x2="339.7" y2="102.7" stroke="#111" stroke-width="0.9"/>
<path d="M312.7 72.7 L310.59999999999997 77.3 L314.8 77.3 Z" fill="#111"/>
<path d="M342.7 102.7 L338.09999999999997 100.60000000000001 L338.09999999999997 104.8 Z" fill="#111"/>
<text transform="translate(316.5,60.3) rotate(-90)" x="-7.65" y="0" font-size="10.4" fill="#111" stroke="#111" stroke-width="0.45" textLength="15.3" lengthAdjust="spacingAndGlyphs">CD19</text>
<text x="347.3" y="106.2" font-size="10.4" fill="#111" stroke="#111" stroke-width="0.45" textLength="18.5" lengthAdjust="spacingAndGlyphs">MHCII</text>
<line x1="12" y1="199.3" x2="12" y2="226" stroke="#111" stroke-width="0.9"/>
<line x1="11.55" y1="226" x2="39.6" y2="226" stroke="#111" stroke-width="0.9"/>
<path d="M12 196.3 L9.9 200.9 L14.1 200.9 Z" fill="#111"/>
<path d="M42.6 226 L38.0 223.9 L38.0 228.1 Z" fill="#111"/>
<text transform="translate(16.2,184.2) rotate(-90)" x="-7.4" y="0" font-size="10.4" fill="#111" stroke="#111" stroke-width="0.45" textLength="14.8" lengthAdjust="spacingAndGlyphs">Ly6G</text>
<text x="46.5" y="229.2" font-size="10.4" fill="#111" stroke="#111" stroke-width="0.45" textLength="18.799999999999997" lengthAdjust="spacingAndGlyphs">CD11b</text>
<line x1="312.5" y1="198.6" x2="312.5" y2="225.3" stroke="#111" stroke-width="0.9"/>
<line x1="312.05" y1="225.3" x2="340.3" y2="225.3" stroke="#111" stroke-width="0.9"/>
<path d="M312.5 195.6 L310.4 200.2 L314.6 200.2 Z" fill="#111"/>
<path d="M343.3 225.3 L338.7 223.20000000000002 L338.7 227.4 Z" fill="#111"/>
<text transform="translate(316.3,181.5) rotate(-90)" x="-8.55" y="0" font-size="10.4" fill="#111" stroke="#111" stroke-width="0.45" textLength="17.1" lengthAdjust="spacingAndGlyphs">NK1.1</text>
<text x="347.3" y="228.6" font-size="10.4" fill="#111" stroke="#111" stroke-width="0.45" textLength="21.099999999999966" lengthAdjust="spacingAndGlyphs">FSC-W</text>
<line x1="11.9" y1="323.8" x2="11.9" y2="351.8" stroke="#111" stroke-width="0.9"/>
<line x1="11.450000000000001" y1="351.8" x2="39.4" y2="351.8" stroke="#111" stroke-width="0.9"/>
<path d="M11.9 320.8 L9.8 325.40000000000003 L14.0 325.40000000000003 Z" fill="#111"/>
<path d="M42.4 351.8 L37.8 349.7 L37.8 353.90000000000003 Z" fill="#111"/>
<text transform="translate(16.2,306.8) rotate(-90)" x="-8.6" y="0" font-size="10.4" fill="#111" stroke="#111" stroke-width="0.45" textLength="17.2" lengthAdjust="spacingAndGlyphs">CD11c</text>
<text x="46.8" y="354.6" font-size="10.4" fill="#111" stroke="#111" stroke-width="0.45" textLength="19.0" lengthAdjust="spacingAndGlyphs">MHCII</text>
<text x="9.2" y="17" font-size="12.4" font-weight="bold" fill="#000" stroke="#000" stroke-width="0.75">A</text>
<text x="310" y="16.6" font-size="12.4" font-weight="bold" fill="#000" stroke="#000" stroke-width="0.75">B</text>
<text x="9.6" y="137" font-size="12.4" font-weight="bold" fill="#000" stroke="#000" stroke-width="0.75">C</text>
<text x="309.2" y="137" font-size="12.4" font-weight="bold" fill="#000" stroke="#000" stroke-width="0.75">D</text>
<text x="8.5" y="261" font-size="12.4" font-weight="bold" fill="#000" stroke="#000" stroke-width="0.75">E</text>
<text x="12.7" y="386.2" font-size="12.4" font-weight="bold" fill="#000" stroke="#000" stroke-width="0.75">F</text>
<text x="303.7" y="386.2" font-size="12.4" font-weight="bold" fill="#000" stroke="#000" stroke-width="0.75">G</text>
<text x="8.4" y="516.5" font-size="12.4" font-weight="bold" fill="#000" stroke="#000" stroke-width="0.75">H</text>
<text x="253.8" y="516.3" font-size="12.4" font-weight="bold" fill="#000" stroke="#000" stroke-width="0.75">I</text>
<text x="95" y="401" font-size="10" fill="#111" stroke="#111" stroke-width="0.12" textLength="132.5" lengthAdjust="spacingAndGlyphs">Monocyte (CD11b<tspan font-size="66%" baseline-shift="3.4">+</tspan>Ly6G<tspan font-size="66%" baseline-shift="3.4">&#8211;</tspan>) gate</text>
<line x1="40" y1="405.5" x2="282.7" y2="405.5" stroke="#111" stroke-width="1"/>
<text x="320.6" y="401" font-size="10" fill="#111" stroke="#111" stroke-width="0.12" textLength="127.29999999999995" lengthAdjust="spacingAndGlyphs">Neutrophil (CD11b<tspan font-size="66%" baseline-shift="3.4">+</tspan>Ly6<tspan font-size="66%" baseline-shift="3.4">+</tspan>) gate</text>
<line x1="336" y1="405.5" x2="431.9" y2="405.5" stroke="#111" stroke-width="1"/>
<text x="69.2" y="531" font-size="10" fill="#111" stroke="#111" stroke-width="0.12" textLength="132.60000000000002" lengthAdjust="spacingAndGlyphs">Monocyte (CD11b<tspan font-size="66%" baseline-shift="3.4">+</tspan>Ly6G<tspan font-size="66%" baseline-shift="3.4">&#8211;</tspan>) gate</text>
<line x1="36.7" y1="536.5" x2="233.3" y2="536.5" stroke="#111" stroke-width="1"/>
<text x="309.9" y="531" font-size="10" fill="#111" stroke="#111" stroke-width="0.12" textLength="135.3" lengthAdjust="spacingAndGlyphs">Neutrophil (CD11b<tspan font-size="66%" baseline-shift="3.4">+</tspan>Ly6G<tspan font-size="66%" baseline-shift="3.4">+</tspan>) gate</text>
<line x1="279.1" y1="536.5" x2="476.2" y2="536.5" stroke="#111" stroke-width="1"/>
<text x="177.5" y="418.8" font-size="8.4" fill="#1a1a1a" textLength="36.5" lengthAdjust="spacingAndGlyphs"><tspan font-style="italic">P</tspan> = .0632</text>
<circle cx="300.7" cy="305.1" r="2.0" fill="#b5102f"/>
<rect x="299.1" y="314.5" width="3.2" height="3.2" fill="#1b4f78"/>
<text x="305.8" y="307.6" font-size="7.2" fill="#222" textLength="40.1" lengthAdjust="spacingAndGlyphs">male (n = 9)</text>
<text x="305.8" y="318.8" font-size="7.2" fill="#222" textLength="45.5" lengthAdjust="spacingAndGlyphs">female (n = 8)</text>
<rect x="0.5" y="0.5" width="519" height="638" fill="none" stroke="#333" stroke-width="1"/>
</svg></body></html>
